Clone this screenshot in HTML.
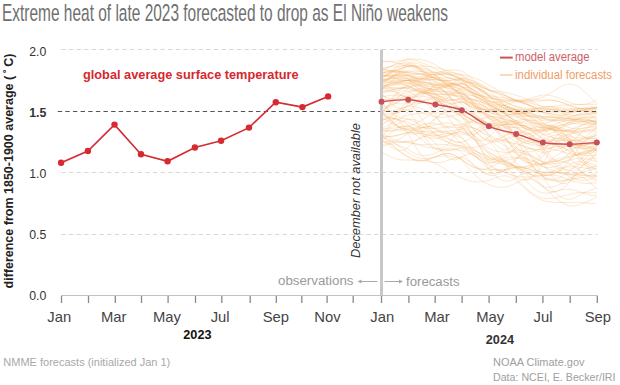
<!DOCTYPE html>
<html><head><meta charset="utf-8"><style>
html,body{margin:0;padding:0;background:#fff;width:620px;height:385px;overflow:hidden}
svg{display:block;font-family:"Liberation Sans",sans-serif}
</style></head><body>
<svg width="620" height="385" viewBox="0 0 620 385">
<line x1="61.3" y1="49.5" x2="597.6" y2="49.5" stroke="#d8d8d8" stroke-width="1" stroke-dasharray="4.4 3.23"/>
<line x1="61.3" y1="172.5" x2="597.6" y2="172.5" stroke="#d8d8d8" stroke-width="1" stroke-dasharray="4.4 3.23"/>
<line x1="61.3" y1="234.5" x2="597.6" y2="234.5" stroke="#d8d8d8" stroke-width="1" stroke-dasharray="4.4 3.23"/>
<g fill="none" stroke="#f6ac5c" stroke-opacity="0.29" stroke-width="1.0"><path d="M381.5,115.5 C382.6,115.7 385.9,116.4 388.2,116.9 C390.4,117.4 392.6,118.1 394.9,118.8 C397.1,119.4 399.3,120.2 401.5,120.8 C403.8,121.4 406.0,121.8 408.2,122.6 C410.4,123.3 412.7,124.6 415.0,125.4 C417.3,126.2 419.5,126.9 421.8,127.4 C424.1,127.8 426.3,128.2 428.6,128.3 C430.9,128.5 433.2,128.4 435.4,128.3 C437.6,128.2 439.8,128.0 442.0,127.8 C444.2,127.5 446.4,127.1 448.6,126.7 C450.8,126.3 453.0,125.8 455.2,125.4 C457.4,125.0 459.6,124.1 461.8,124.2 C464.0,124.3 466.3,125.3 468.6,126.0 C470.8,126.7 473.1,127.5 475.4,128.5 C477.6,129.4 479.9,130.6 482.1,131.9 C484.4,133.2 486.6,135.1 488.9,136.4 C491.2,137.7 493.4,138.6 495.7,139.9 C498.0,141.2 500.2,142.7 502.5,144.2 C504.8,145.7 507.0,147.3 509.3,148.9 C511.6,150.4 513.9,151.9 516.1,153.4 C518.4,154.8 520.6,156.2 522.8,157.4 C525.0,158.6 527.3,159.6 529.5,160.5 C531.7,161.4 534.0,162.0 536.2,162.6 C538.4,163.1 540.7,163.8 542.9,163.8 C545.1,163.8 547.4,163.1 549.6,162.6 C551.8,162.2 554.1,161.6 556.3,161.1 C558.5,160.5 560.8,159.9 563.0,159.3 C565.2,158.6 567.5,158.1 569.7,157.4 C571.9,156.6 574.2,155.5 576.5,154.7 C578.7,153.8 581.0,153.0 583.2,152.3 C585.5,151.6 587.8,151.0 590.0,150.5 C592.3,150.1 595.7,149.8 596.8,149.7"/>
<path d="M381.5,87.5 C382.6,87.5 385.9,87.3 388.2,87.3 C390.4,87.3 392.6,87.5 394.9,87.6 C397.1,87.8 399.3,88.1 401.5,88.3 C403.8,88.5 406.0,88.5 408.2,88.9 C410.4,89.4 412.7,90.4 415.0,91.0 C417.3,91.6 419.5,92.1 421.8,92.5 C424.1,92.8 426.3,93.1 428.6,93.3 C430.9,93.5 433.2,93.6 435.4,93.7 C437.6,93.9 439.8,94.0 442.0,94.2 C444.2,94.4 446.4,94.6 448.6,94.9 C450.8,95.2 453.0,95.6 455.2,96.1 C457.4,96.6 459.6,96.7 461.8,97.8 C464.0,98.9 466.3,100.9 468.6,102.6 C470.8,104.2 473.1,106.0 475.4,107.7 C477.6,109.4 479.9,111.2 482.1,112.9 C484.4,114.7 486.6,116.8 488.9,118.1 C491.2,119.3 493.4,119.9 495.7,120.7 C498.0,121.5 500.2,122.2 502.5,122.8 C504.8,123.4 507.0,123.8 509.3,124.2 C511.6,124.5 513.9,124.7 516.1,124.9 C518.4,125.1 520.6,125.2 522.8,125.4 C525.0,125.5 527.3,125.6 529.5,125.8 C531.7,125.9 534.0,126.1 536.2,126.5 C538.4,126.9 540.7,127.7 542.9,128.1 C545.1,128.5 547.4,128.5 549.6,129.0 C551.8,129.5 554.1,130.2 556.3,131.0 C558.5,131.8 560.8,132.7 563.0,133.6 C565.2,134.5 567.5,135.7 569.7,136.3 C571.9,137.0 574.2,137.4 576.5,137.6 C578.7,137.9 581.0,138.0 583.2,137.9 C585.5,137.7 587.8,137.4 590.0,137.0 C592.3,136.6 595.7,135.6 596.8,135.3"/>
<path d="M381.5,93.5 C382.6,93.1 385.9,92.1 388.2,91.4 C390.4,90.8 392.6,90.1 394.9,89.5 C397.1,88.9 399.3,88.4 401.5,88.1 C403.8,87.7 406.0,87.1 408.2,87.2 C410.4,87.3 412.7,88.0 415.0,88.5 C417.3,88.9 419.5,89.4 421.8,89.8 C424.1,90.2 426.3,90.6 428.6,90.8 C430.9,91.1 433.2,91.2 435.4,91.3 C437.6,91.4 439.8,91.5 442.0,91.5 C444.2,91.4 446.4,91.3 448.6,91.2 C450.8,91.1 453.0,91.0 455.2,90.9 C457.4,90.8 459.6,90.3 461.8,90.8 C464.0,91.2 466.3,92.6 468.6,93.6 C470.8,94.6 473.1,95.7 475.4,96.8 C477.6,98.0 479.9,99.2 482.1,100.4 C484.4,101.6 486.6,103.3 488.9,104.2 C491.2,105.2 493.4,105.5 495.7,106.1 C498.0,106.7 500.2,107.3 502.5,107.8 C504.8,108.3 507.0,108.9 509.3,109.3 C511.6,109.8 513.9,110.2 516.1,110.7 C518.4,111.1 520.6,111.6 522.8,112.0 C525.0,112.5 527.3,112.9 529.5,113.4 C531.7,113.9 534.0,114.4 536.2,114.9 C538.4,115.5 540.7,116.4 542.9,116.8 C545.1,117.2 547.4,117.1 549.6,117.3 C551.8,117.5 554.1,117.7 556.3,117.9 C558.5,118.1 560.8,118.2 563.0,118.3 C565.2,118.4 567.5,118.6 569.7,118.4 C571.9,118.2 574.2,117.6 576.5,117.2 C578.7,116.7 581.0,116.2 583.2,115.7 C585.5,115.2 587.8,114.6 590.0,114.2 C592.3,113.7 595.7,113.1 596.8,112.9"/>
<path d="M381.5,135.7 C382.6,136.4 385.9,139.3 388.2,140.1 C390.4,140.9 392.6,141.0 394.9,140.6 C397.1,140.3 399.3,139.2 401.5,137.9 C403.8,136.6 406.0,134.3 408.2,132.7 C410.4,131.2 412.7,129.7 415.0,128.4 C417.3,127.0 419.5,125.7 421.8,124.8 C424.1,124.0 426.3,123.4 428.6,123.2 C430.9,123.0 433.2,123.3 435.4,123.7 C437.6,124.0 439.8,124.9 442.0,125.5 C444.2,126.1 446.4,126.8 448.6,127.2 C450.8,127.5 453.0,127.8 455.2,127.7 C457.4,127.6 459.6,126.7 461.8,126.7 C464.0,126.6 466.3,127.1 468.6,127.4 C470.8,127.8 473.1,127.9 475.4,128.8 C477.6,129.6 479.9,130.7 482.1,132.6 C484.4,134.4 486.6,137.3 488.9,140.0 C491.2,142.8 493.4,145.7 495.7,149.0 C498.0,152.2 500.2,156.3 502.5,159.7 C504.8,163.2 507.0,166.8 509.3,169.6 C511.6,172.5 513.9,175.1 516.1,176.8 C518.4,178.5 520.6,179.6 522.8,180.0 C525.0,180.4 527.3,180.1 529.5,179.0 C531.7,177.9 534.0,176.0 536.2,173.5 C538.4,170.9 540.7,167.6 542.9,163.9 C545.1,160.2 547.4,155.0 549.6,151.2 C551.8,147.5 554.1,143.8 556.3,141.5 C558.5,139.3 560.8,138.0 563.0,137.9 C565.2,137.8 567.5,139.1 569.7,141.0 C571.9,142.8 574.2,145.8 576.5,149.0 C578.7,152.1 581.0,156.4 583.2,159.9 C585.5,163.5 587.8,167.3 590.0,170.2 C592.3,173.0 595.7,175.9 596.8,177.1"/>
<path d="M381.5,81.6 C382.6,81.6 385.9,81.6 388.2,81.7 C390.4,81.7 392.6,81.8 394.9,81.9 C397.1,82.0 399.3,82.2 401.5,82.3 C403.8,82.5 406.0,82.4 408.2,82.8 C410.4,83.3 412.7,84.3 415.0,85.0 C417.3,85.6 419.5,86.3 421.8,86.9 C424.1,87.5 426.3,88.0 428.6,88.5 C430.9,89.0 433.2,89.4 435.4,89.8 C437.6,90.2 439.8,90.6 442.0,91.0 C444.2,91.4 446.4,91.7 448.6,92.0 C450.8,92.3 453.0,92.6 455.2,92.9 C457.4,93.2 459.6,93.0 461.8,93.8 C464.0,94.5 466.3,96.1 468.6,97.3 C470.8,98.5 473.1,99.7 475.4,101.0 C477.6,102.3 479.9,103.7 482.1,105.1 C484.4,106.6 486.6,108.5 488.9,109.8 C491.2,111.0 493.4,111.7 495.7,112.8 C498.0,113.9 500.2,115.0 502.5,116.2 C504.8,117.3 507.0,118.6 509.3,119.7 C511.6,120.8 513.9,121.9 516.1,122.9 C518.4,123.9 520.6,124.9 522.8,125.7 C525.0,126.5 527.3,127.2 529.5,127.8 C531.7,128.5 534.0,128.9 536.2,129.4 C538.4,129.9 540.7,130.5 542.9,130.7 C545.1,130.8 547.4,130.4 549.6,130.3 C551.8,130.2 554.1,130.2 556.3,130.2 C558.5,130.3 560.8,130.4 563.0,130.6 C565.2,130.8 567.5,131.2 569.7,131.3 C571.9,131.4 574.2,131.2 576.5,131.2 C578.7,131.2 581.0,131.2 583.2,131.2 C585.5,131.2 587.8,131.2 590.0,131.2 C592.3,131.2 595.7,131.2 596.8,131.3"/>
<path d="M381.5,89.9 C382.6,88.9 385.9,85.8 388.2,83.9 C390.4,82.0 392.6,79.8 394.9,78.6 C397.1,77.5 399.3,76.8 401.5,76.9 C403.8,77.1 406.0,77.9 408.2,79.4 C410.4,80.8 412.7,83.8 415.0,85.7 C417.3,87.7 419.5,89.9 421.8,91.0 C424.1,92.1 426.3,92.5 428.6,92.3 C430.9,92.2 433.2,90.8 435.4,89.9 C437.6,89.0 439.8,87.5 442.0,86.8 C444.2,86.2 446.4,85.7 448.6,86.1 C450.8,86.5 453.0,87.7 455.2,89.3 C457.4,90.9 459.6,93.0 461.8,95.6 C464.0,98.2 466.3,102.3 468.6,104.9 C470.8,107.4 473.1,109.6 475.4,110.9 C477.6,112.2 479.9,112.4 482.1,112.5 C484.4,112.6 486.6,112.0 488.9,111.6 C491.2,111.1 493.4,109.7 495.7,109.7 C498.0,109.6 500.2,110.2 502.5,111.5 C504.8,112.9 507.0,115.2 509.3,117.6 C511.6,119.9 513.9,123.1 516.1,125.5 C518.4,127.9 520.6,130.6 522.8,131.9 C525.0,133.3 527.3,133.8 529.5,133.6 C531.7,133.5 534.0,132.1 536.2,131.0 C538.4,130.0 540.7,128.5 542.9,127.5 C545.1,126.5 547.4,125.1 549.6,125.0 C551.8,124.9 554.1,125.7 556.3,127.0 C558.5,128.3 560.8,130.7 563.0,132.7 C565.2,134.7 567.5,137.5 569.7,138.9 C571.9,140.3 574.2,141.1 576.5,141.1 C578.7,141.0 581.0,139.9 583.2,138.5 C585.5,137.2 587.8,134.7 590.0,133.0 C592.3,131.3 595.7,129.1 596.8,128.3"/>
<path d="M381.5,79.9 C382.6,79.7 385.9,79.1 388.2,78.9 C390.4,78.7 392.6,78.7 394.9,78.8 C397.1,78.9 399.3,79.3 401.5,79.6 C403.8,79.9 406.0,80.1 408.2,80.8 C410.4,81.4 412.7,82.7 415.0,83.4 C417.3,84.2 419.5,84.9 421.8,85.4 C424.1,85.9 426.3,86.3 428.6,86.5 C430.9,86.8 433.2,86.8 435.4,86.9 C437.6,87.0 439.8,87.1 442.0,87.3 C444.2,87.5 446.4,87.7 448.6,88.0 C450.8,88.4 453.0,88.8 455.2,89.4 C457.4,90.0 459.6,90.4 461.8,91.6 C464.0,92.9 466.3,95.2 468.6,97.0 C470.8,98.8 473.1,100.8 475.4,102.6 C477.6,104.4 479.9,106.2 482.1,107.9 C484.4,109.5 486.6,111.5 488.9,112.5 C491.2,113.6 493.4,113.8 495.7,114.3 C498.0,114.8 500.2,115.1 502.5,115.4 C504.8,115.7 507.0,115.9 509.3,116.2 C511.6,116.5 513.9,116.7 516.1,117.1 C518.4,117.5 520.6,118.0 522.8,118.6 C525.0,119.2 527.3,119.9 529.5,120.7 C531.7,121.5 534.0,122.4 536.2,123.4 C538.4,124.4 540.7,125.8 542.9,126.7 C545.1,127.5 547.4,127.8 549.6,128.4 C551.8,128.9 554.1,129.5 556.3,129.9 C558.5,130.3 560.8,130.6 563.0,130.8 C565.2,131.0 567.5,131.2 569.7,131.0 C571.9,130.9 574.2,130.2 576.5,129.8 C578.7,129.4 581.0,128.8 583.2,128.4 C585.5,128.0 587.8,127.6 590.0,127.3 C592.3,127.1 595.7,127.1 596.8,127.1"/>
<path d="M381.5,69.5 C382.6,69.2 385.9,68.2 388.2,67.3 C390.4,66.4 392.6,65.2 394.9,64.2 C397.1,63.2 399.3,62.1 401.5,61.3 C403.8,60.5 406.0,59.6 408.2,59.4 C410.4,59.3 412.7,59.8 415.0,60.4 C417.3,60.9 419.5,61.7 421.8,62.6 C424.1,63.4 426.3,64.6 428.6,65.7 C430.9,66.8 433.2,68.0 435.4,69.1 C437.6,70.2 439.8,71.4 442.0,72.3 C444.2,73.1 446.4,73.8 448.6,74.3 C450.8,74.7 453.0,74.9 455.2,75.0 C457.4,75.0 459.6,74.4 461.8,74.6 C464.0,74.8 466.3,75.6 468.6,76.2 C470.8,76.8 473.1,77.4 475.4,78.2 C477.6,79.0 479.9,79.9 482.1,81.1 C484.4,82.2 486.6,83.8 488.9,85.1 C491.2,86.4 493.4,87.5 495.7,88.8 C498.0,90.2 500.2,91.7 502.5,93.1 C504.8,94.5 507.0,96.1 509.3,97.2 C511.6,98.4 513.9,99.6 516.1,100.3 C518.4,101.0 520.6,101.4 522.8,101.7 C525.0,101.9 527.3,101.8 529.5,101.7 C531.7,101.6 534.0,101.3 536.2,101.1 C538.4,101.0 540.7,101.1 542.9,100.9 C545.1,100.8 547.4,100.3 549.6,100.3 C551.8,100.4 554.1,100.6 556.3,101.0 C558.5,101.3 560.8,102.0 563.0,102.7 C565.2,103.4 567.5,104.5 569.7,105.2 C571.9,106.0 574.2,106.7 576.5,107.3 C578.7,107.9 581.0,108.5 583.2,108.7 C585.5,109.0 587.8,109.0 590.0,108.9 C592.3,108.7 595.7,107.9 596.8,107.7"/>
<path d="M381.5,129.6 C382.6,129.9 385.9,130.9 388.2,131.1 C390.4,131.3 392.6,131.0 394.9,130.9 C397.1,130.7 399.3,130.1 401.5,130.0 C403.8,130.0 406.0,129.6 408.2,130.3 C410.4,131.0 412.7,132.6 415.0,134.2 C417.3,135.7 419.5,137.8 421.8,139.6 C424.1,141.4 426.3,143.4 428.6,145.0 C430.9,146.5 433.2,147.9 435.4,148.9 C437.6,149.8 439.8,150.5 442.0,150.8 C444.2,151.0 446.4,150.8 448.6,150.6 C450.8,150.3 453.0,149.6 455.2,149.2 C457.4,148.7 459.6,147.7 461.8,147.9 C464.0,148.0 466.3,149.2 468.6,150.1 C470.8,151.1 473.1,152.4 475.4,153.5 C477.6,154.7 479.9,156.1 482.1,157.1 C484.4,158.0 486.6,159.3 488.9,159.5 C491.2,159.6 493.4,158.9 495.7,158.2 C498.0,157.4 500.2,156.2 502.5,155.2 C504.8,154.1 507.0,152.7 509.3,151.8 C511.6,151.0 513.9,150.1 516.1,150.0 C518.4,149.8 520.6,150.3 522.8,151.0 C525.0,151.7 527.3,153.1 529.5,154.3 C531.7,155.5 534.0,157.1 536.2,158.4 C538.4,159.6 540.7,161.1 542.9,161.7 C545.1,162.3 547.4,162.0 549.6,161.9 C551.8,161.9 554.1,161.4 556.3,161.4 C558.5,161.3 560.8,161.1 563.0,161.5 C565.2,161.9 567.5,162.8 569.7,163.9 C571.9,165.0 574.2,166.4 576.5,167.9 C578.7,169.5 581.0,171.6 583.2,173.3 C585.5,175.0 587.8,176.8 590.0,178.0 C592.3,179.2 595.7,180.2 596.8,180.7"/>
<path d="M381.5,132.0 C382.6,131.8 385.9,131.3 388.2,131.0 C390.4,130.6 392.6,130.2 394.9,129.9 C397.1,129.5 399.3,129.2 401.5,128.9 C403.8,128.6 406.0,128.1 408.2,128.2 C410.4,128.3 412.7,129.0 415.0,129.5 C417.3,130.0 419.5,130.6 421.8,131.1 C424.1,131.7 426.3,132.3 428.6,133.0 C430.9,133.6 433.2,134.2 435.4,134.9 C437.6,135.6 439.8,136.4 442.0,137.1 C444.2,137.9 446.4,138.6 448.6,139.3 C450.8,140.0 453.0,140.7 455.2,141.3 C457.4,141.9 459.6,142.1 461.8,143.1 C464.0,144.0 466.3,145.7 468.6,147.0 C470.8,148.3 473.1,149.5 475.4,150.8 C477.6,152.0 479.9,153.2 482.1,154.4 C484.4,155.6 486.6,157.2 488.9,158.1 C491.2,159.1 493.4,159.4 495.7,160.1 C498.0,160.8 500.2,161.5 502.5,162.2 C504.8,162.9 507.0,163.7 509.3,164.3 C511.6,165.0 513.9,165.6 516.1,166.3 C518.4,166.9 520.6,167.5 522.8,168.0 C525.0,168.5 527.3,168.9 529.5,169.4 C531.7,169.8 534.0,170.2 536.2,170.6 C538.4,171.1 540.7,171.8 542.9,172.0 C545.1,172.3 547.4,172.0 549.6,172.1 C551.8,172.2 554.1,172.4 556.3,172.7 C558.5,173.0 560.8,173.3 563.0,173.7 C565.2,174.1 567.5,174.7 569.7,175.0 C571.9,175.3 574.2,175.2 576.5,175.3 C578.7,175.4 581.0,175.4 583.2,175.5 C585.5,175.5 587.8,175.5 590.0,175.4 C592.3,175.4 595.7,175.3 596.8,175.3"/>
<path d="M381.5,81.7 C382.6,81.8 385.9,82.4 388.2,82.5 C390.4,82.6 392.6,82.7 394.9,82.5 C397.1,82.4 399.3,82.1 401.5,81.7 C403.8,81.3 406.0,80.4 408.2,80.2 C410.4,80.0 412.7,80.3 415.0,80.5 C417.3,80.8 419.5,81.0 421.8,81.6 C424.1,82.1 426.3,82.8 428.6,83.6 C430.9,84.5 433.2,85.5 435.4,86.6 C437.6,87.7 439.8,89.1 442.0,90.3 C444.2,91.4 446.4,92.6 448.6,93.5 C450.8,94.4 453.0,95.2 455.2,95.6 C457.4,96.1 459.6,95.8 461.8,96.2 C464.0,96.6 466.3,97.6 468.6,98.2 C470.8,98.8 473.1,99.3 475.4,99.9 C477.6,100.6 479.9,101.3 482.1,102.3 C484.4,103.3 486.6,104.9 488.9,106.0 C491.2,107.1 493.4,107.9 495.7,109.1 C498.0,110.3 500.2,111.8 502.5,113.1 C504.8,114.5 507.0,116.0 509.3,117.3 C511.6,118.5 513.9,119.6 516.1,120.5 C518.4,121.5 520.6,122.2 522.8,122.7 C525.0,123.2 527.3,123.4 529.5,123.6 C531.7,123.9 534.0,123.9 536.2,124.1 C538.4,124.4 540.7,124.9 542.9,125.2 C545.1,125.4 547.4,125.3 549.6,125.7 C551.8,126.1 554.1,126.8 556.3,127.5 C558.5,128.2 560.8,129.2 563.0,130.1 C565.2,130.9 567.5,132.0 569.7,132.5 C571.9,133.0 574.2,133.1 576.5,133.0 C578.7,132.9 581.0,132.6 583.2,132.1 C585.5,131.6 587.8,130.7 590.0,130.0 C592.3,129.3 595.7,128.1 596.8,127.7"/>
<path d="M381.5,61.8 C382.6,61.7 385.9,61.5 388.2,61.6 C390.4,61.8 392.6,62.1 394.9,62.6 C397.1,63.0 399.3,63.7 401.5,64.3 C403.8,64.9 406.0,65.4 408.2,66.2 C410.4,67.1 412.7,68.5 415.0,69.3 C417.3,70.2 419.5,70.9 421.8,71.4 C424.1,71.9 426.3,72.2 428.6,72.3 C430.9,72.5 433.2,72.4 435.4,72.4 C437.6,72.3 439.8,72.2 442.0,72.3 C444.2,72.3 446.4,72.3 448.6,72.5 C450.8,72.6 453.0,72.9 455.2,73.3 C457.4,73.7 459.6,73.8 461.8,74.7 C464.0,75.6 466.3,77.5 468.6,78.8 C470.8,80.2 473.1,81.7 475.4,83.0 C477.6,84.3 479.9,85.6 482.1,86.8 C484.4,87.9 486.6,89.3 488.9,90.0 C491.2,90.7 493.4,90.7 495.7,91.0 C498.0,91.4 500.2,91.6 502.5,92.0 C504.8,92.4 507.0,92.8 509.3,93.4 C511.6,93.9 513.9,94.6 516.1,95.3 C518.4,95.9 520.6,96.6 522.8,97.4 C525.0,98.3 527.3,99.2 529.5,100.2 C531.7,101.3 534.0,102.4 536.2,103.6 C538.4,104.8 540.7,106.3 542.9,107.2 C545.1,108.1 547.4,108.5 549.6,109.1 C551.8,109.6 554.1,110.0 556.3,110.3 C558.5,110.6 560.8,110.7 563.0,110.7 C565.2,110.8 567.5,110.7 569.7,110.5 C571.9,110.2 574.2,109.6 576.5,109.1 C578.7,108.7 581.0,108.3 583.2,108.0 C585.5,107.6 587.8,107.4 590.0,107.2 C592.3,107.1 595.7,107.0 596.8,107.0"/>
<path d="M381.5,80.0 C382.6,80.1 385.9,80.2 388.2,80.3 C390.4,80.5 392.6,80.6 394.9,80.7 C397.1,80.8 399.3,80.9 401.5,80.9 C403.8,80.9 406.0,80.6 408.2,80.8 C410.4,80.9 412.7,81.6 415.0,81.9 C417.3,82.2 419.5,82.5 421.8,82.6 C424.1,82.8 426.3,82.9 428.6,82.9 C430.9,83.0 433.2,83.0 435.4,83.1 C437.6,83.2 439.8,83.3 442.0,83.5 C444.2,83.6 446.4,83.8 448.6,84.1 C450.8,84.4 453.0,84.7 455.2,85.1 C457.4,85.5 459.6,85.6 461.8,86.5 C464.0,87.4 466.3,89.3 468.6,90.7 C470.8,92.2 473.1,93.7 475.4,95.2 C477.6,96.7 479.9,98.3 482.1,99.9 C484.4,101.5 486.6,103.4 488.9,104.7 C491.2,106.0 493.4,106.6 495.7,107.5 C498.0,108.4 500.2,109.3 502.5,110.1 C504.8,111.0 507.0,111.8 509.3,112.4 C511.6,113.1 513.9,113.6 516.1,114.1 C518.4,114.6 520.6,115.0 522.8,115.3 C525.0,115.6 527.3,115.8 529.5,116.0 C531.7,116.1 534.0,116.2 536.2,116.4 C538.4,116.5 540.7,116.9 542.9,116.9 C545.1,116.9 547.4,116.5 549.6,116.4 C551.8,116.3 554.1,116.4 556.3,116.6 C558.5,116.7 560.8,117.1 563.0,117.4 C565.2,117.8 567.5,118.5 569.7,118.9 C571.9,119.3 574.2,119.5 576.5,119.8 C578.7,120.0 581.0,120.4 583.2,120.6 C585.5,120.9 587.8,121.1 590.0,121.3 C592.3,121.4 595.7,121.6 596.8,121.6"/>
<path d="M381.5,72.8 C382.6,72.7 385.9,72.5 388.2,72.3 C390.4,72.1 392.6,71.9 394.9,71.7 C397.1,71.5 399.3,71.3 401.5,71.2 C403.8,71.0 406.0,70.6 408.2,70.8 C410.4,71.0 412.7,71.8 415.0,72.4 C417.3,73.0 419.5,73.6 421.8,74.2 C424.1,74.9 426.3,75.6 428.6,76.3 C430.9,77.0 433.2,77.7 435.4,78.5 C437.6,79.3 439.8,80.1 442.0,80.9 C444.2,81.7 446.4,82.5 448.6,83.2 C450.8,83.9 453.0,84.6 455.2,85.2 C457.4,85.8 459.6,85.9 461.8,86.8 C464.0,87.6 466.3,89.3 468.6,90.5 C470.8,91.7 473.1,92.8 475.4,94.0 C477.6,95.1 479.9,96.2 482.1,97.4 C484.4,98.6 486.6,100.1 488.9,101.1 C491.2,102.0 493.4,102.4 495.7,103.1 C498.0,103.9 500.2,104.8 502.5,105.6 C504.8,106.5 507.0,107.4 509.3,108.3 C511.6,109.2 513.9,110.1 516.1,111.0 C518.4,111.8 520.6,112.7 522.8,113.4 C525.0,114.2 527.3,114.8 529.5,115.5 C531.7,116.1 534.0,116.6 536.2,117.2 C538.4,117.8 540.7,118.5 542.9,118.9 C545.1,119.2 547.4,119.0 549.6,119.2 C551.8,119.3 554.1,119.6 556.3,119.9 C558.5,120.2 560.8,120.7 563.0,121.2 C565.2,121.6 567.5,122.4 569.7,122.8 C571.9,123.2 574.2,123.4 576.5,123.7 C578.7,123.9 581.0,124.2 583.2,124.4 C585.5,124.6 587.8,124.7 590.0,124.8 C592.3,124.9 595.7,124.8 596.8,124.8"/>
<path d="M381.5,61.0 C382.6,61.0 385.9,61.3 388.2,61.3 C390.4,61.4 392.6,61.4 394.9,61.3 C397.1,61.1 399.3,60.8 401.5,60.5 C403.8,60.1 406.0,59.2 408.2,59.0 C410.4,58.8 412.7,58.9 415.0,59.1 C417.3,59.2 419.5,59.4 421.8,59.8 C424.1,60.3 426.3,60.9 428.6,61.7 C430.9,62.5 433.2,63.6 435.4,64.8 C437.6,66.0 439.8,67.5 442.0,69.0 C444.2,70.4 446.4,72.0 448.6,73.4 C450.8,74.7 453.0,76.1 455.2,77.1 C457.4,78.1 459.6,78.5 461.8,79.5 C464.0,80.5 466.3,82.0 468.6,83.1 C470.8,84.3 473.1,85.2 475.4,86.4 C477.6,87.5 479.9,88.7 482.1,90.1 C484.4,91.6 486.6,93.6 488.9,95.1 C491.2,96.7 493.4,98.0 495.7,99.5 C498.0,101.0 500.2,102.8 502.5,104.2 C504.8,105.7 507.0,107.1 509.3,108.1 C511.6,109.2 513.9,109.9 516.1,110.3 C518.4,110.7 520.6,110.7 522.8,110.6 C525.0,110.5 527.3,110.0 529.5,109.7 C531.7,109.4 534.0,109.0 536.2,108.9 C538.4,108.8 540.7,109.1 542.9,109.2 C545.1,109.2 547.4,109.1 549.6,109.3 C551.8,109.5 554.1,109.9 556.3,110.4 C558.5,110.8 560.8,111.4 563.0,111.8 C565.2,112.1 567.5,112.6 569.7,112.6 C571.9,112.5 574.2,112.0 576.5,111.6 C578.7,111.1 581.0,110.4 583.2,109.9 C585.5,109.3 587.8,108.7 590.0,108.3 C592.3,107.9 595.7,107.6 596.8,107.4"/>
<path d="M381.5,98.8 C382.6,99.1 385.9,100.1 388.2,100.7 C390.4,101.4 392.6,102.4 394.9,102.9 C397.1,103.5 399.3,104.0 401.5,104.0 C403.8,104.1 406.0,103.6 408.2,103.3 C410.4,103.0 412.7,102.9 415.0,102.5 C417.3,102.1 419.5,101.3 421.8,100.8 C424.1,100.4 426.3,99.8 428.6,99.7 C430.9,99.6 433.2,99.7 435.4,100.3 C437.6,100.8 439.8,102.0 442.0,103.3 C444.2,104.5 446.4,106.3 448.6,108.0 C450.8,109.6 453.0,111.6 455.2,113.1 C457.4,114.5 459.6,115.6 461.8,117.0 C464.0,118.3 466.3,120.2 468.6,121.2 C470.8,122.2 473.1,122.6 475.4,123.0 C477.6,123.4 479.9,123.2 482.1,123.3 C484.4,123.5 486.6,123.7 488.9,123.8 C491.2,123.8 493.4,123.3 495.7,123.6 C498.0,124.0 500.2,124.8 502.5,125.9 C504.8,127.0 507.0,128.7 509.3,130.3 C511.6,131.8 513.9,133.8 516.1,135.4 C518.4,136.9 520.6,138.7 522.8,139.8 C525.0,140.9 527.3,141.8 529.5,142.1 C531.7,142.5 534.0,142.3 536.2,142.0 C538.4,141.7 540.7,141.1 542.9,140.3 C545.1,139.4 547.4,137.7 549.6,136.8 C551.8,136.0 554.1,135.2 556.3,135.0 C558.5,134.8 560.8,135.1 563.0,135.7 C565.2,136.4 567.5,137.7 569.7,138.8 C571.9,139.9 574.2,141.2 576.5,142.3 C578.7,143.5 581.0,144.8 583.2,145.5 C585.5,146.3 587.8,146.9 590.0,146.9 C592.3,147.0 595.7,146.2 596.8,146.0"/>
<path d="M381.5,75.2 C382.6,75.2 385.9,75.3 388.2,75.4 C390.4,75.4 392.6,75.5 394.9,75.6 C397.1,75.6 399.3,75.7 401.5,75.7 C403.8,75.7 406.0,75.4 408.2,75.7 C410.4,76.0 412.7,76.8 415.0,77.2 C417.3,77.7 419.5,78.1 421.8,78.4 C424.1,78.8 426.3,79.1 428.6,79.3 C430.9,79.5 433.2,79.7 435.4,79.8 C437.6,79.9 439.8,80.1 442.0,80.2 C444.2,80.3 446.4,80.3 448.6,80.3 C450.8,80.3 453.0,80.3 455.2,80.2 C457.4,80.2 459.6,79.7 461.8,80.1 C464.0,80.4 466.3,81.6 468.6,82.3 C470.8,83.1 473.1,83.9 475.4,84.7 C477.6,85.5 479.9,86.4 482.1,87.3 C484.4,88.3 486.6,89.5 488.9,90.4 C491.2,91.2 493.4,91.6 495.7,92.3 C498.0,93.0 500.2,93.9 502.5,94.8 C504.8,95.6 507.0,96.6 509.3,97.6 C511.6,98.5 513.9,99.6 516.1,100.5 C518.4,101.5 520.6,102.4 522.8,103.3 C525.0,104.2 527.3,105.0 529.5,105.8 C531.7,106.6 534.0,107.4 536.2,108.1 C538.4,108.9 540.7,109.8 542.9,110.3 C545.1,110.7 547.4,110.6 549.6,110.8 C551.8,111.0 554.1,111.2 556.3,111.3 C558.5,111.5 560.8,111.7 563.0,111.8 C565.2,111.9 567.5,112.2 569.7,112.1 C571.9,112.0 574.2,111.6 576.5,111.3 C578.7,111.0 581.0,110.6 583.2,110.2 C585.5,109.8 587.8,109.3 590.0,108.8 C592.3,108.4 595.7,107.7 596.8,107.5"/>
<path d="M381.5,111.5 C382.6,112.5 385.9,115.0 388.2,117.0 C390.4,119.1 392.6,121.7 394.9,123.8 C397.1,125.9 399.3,128.1 401.5,129.6 C403.8,131.1 406.0,132.0 408.2,132.8 C410.4,133.6 412.7,134.4 415.0,134.2 C417.3,134.1 419.5,133.3 421.8,132.0 C424.1,130.7 426.3,128.7 428.6,126.6 C430.9,124.5 433.2,121.8 435.4,119.5 C437.6,117.3 439.8,114.9 442.0,113.4 C444.2,111.8 446.4,110.6 448.6,110.2 C450.8,109.9 453.0,110.3 455.2,111.5 C457.4,112.6 459.6,114.2 461.8,117.0 C464.0,119.8 466.3,124.4 468.6,128.2 C470.8,132.1 473.1,136.4 475.4,140.1 C477.6,143.8 479.9,147.5 482.1,150.4 C484.4,153.3 486.6,156.1 488.9,157.6 C491.2,159.1 493.4,159.4 495.7,159.5 C498.0,159.5 500.2,158.9 502.5,158.0 C504.8,157.0 507.0,155.3 509.3,153.5 C511.6,151.8 513.9,149.5 516.1,147.6 C518.4,145.8 520.6,143.8 522.8,142.6 C525.0,141.4 527.3,140.5 529.5,140.4 C531.7,140.2 534.0,140.8 536.2,142.0 C538.4,143.2 540.7,145.6 542.9,147.7 C545.1,149.7 547.4,152.0 549.6,154.4 C551.8,156.8 554.1,159.6 556.3,161.9 C558.5,164.1 560.8,166.4 563.0,168.0 C565.2,169.5 567.5,170.8 569.7,171.1 C571.9,171.5 574.2,170.9 576.5,169.9 C578.7,169.0 581.0,167.3 583.2,165.4 C585.5,163.5 587.8,161.0 590.0,158.7 C592.3,156.4 595.7,152.8 596.8,151.7"/>
<path d="M381.5,73.8 C382.6,73.3 385.9,71.4 388.2,70.8 C390.4,70.3 392.6,70.2 394.9,70.4 C397.1,70.6 399.3,71.3 401.5,72.1 C403.8,72.8 406.0,73.7 408.2,74.7 C410.4,75.8 412.7,77.5 415.0,78.3 C417.3,79.2 419.5,79.7 421.8,79.7 C424.1,79.8 426.3,79.2 428.6,78.6 C430.9,77.9 433.2,76.7 435.4,75.9 C437.6,75.1 439.8,74.2 442.0,73.8 C444.2,73.4 446.4,73.1 448.6,73.4 C450.8,73.6 453.0,74.3 455.2,75.3 C457.4,76.4 459.6,77.6 461.8,79.8 C464.0,82.0 466.3,85.5 468.6,88.6 C470.8,91.6 473.1,95.1 475.4,98.0 C477.6,100.9 479.9,103.8 482.1,106.0 C484.4,108.2 486.6,110.3 488.9,111.2 C491.2,112.2 493.4,111.8 495.7,111.8 C498.0,111.8 500.2,111.3 502.5,111.2 C504.8,111.0 507.0,110.8 509.3,111.1 C511.6,111.4 513.9,112.0 516.1,113.0 C518.4,114.0 520.6,115.5 522.8,117.2 C525.0,118.9 527.3,121.1 529.5,123.2 C531.7,125.2 534.0,127.6 536.2,129.4 C538.4,131.2 540.7,133.2 542.9,134.0 C545.1,134.7 547.4,134.4 549.6,133.9 C551.8,133.3 554.1,132.1 556.3,130.8 C558.5,129.5 560.8,127.5 563.0,126.0 C565.2,124.5 567.5,122.9 569.7,121.7 C571.9,120.4 574.2,119.1 576.5,118.5 C578.7,117.8 581.0,117.7 583.2,117.9 C585.5,118.2 587.8,119.0 590.0,120.0 C592.3,120.9 595.7,123.1 596.8,123.7"/>
<path d="M381.5,100.9 C382.6,102.3 385.9,106.8 388.2,109.3 C390.4,111.7 392.6,114.6 394.9,115.8 C397.1,117.1 399.3,117.5 401.5,116.8 C403.8,116.1 406.0,113.7 408.2,111.9 C410.4,110.0 412.7,107.5 415.0,105.9 C417.3,104.3 419.5,102.5 421.8,102.4 C424.1,102.3 426.3,103.3 428.6,105.3 C430.9,107.3 433.2,110.9 435.4,114.2 C437.6,117.5 439.8,122.1 442.0,125.1 C444.2,128.1 446.4,131.0 448.6,132.4 C450.8,133.7 453.0,133.9 455.2,133.2 C457.4,132.5 459.6,129.7 461.8,128.1 C464.0,126.4 466.3,124.3 468.6,123.2 C470.8,122.0 473.1,120.9 475.4,121.3 C477.6,121.8 479.9,123.4 482.1,125.9 C484.4,128.3 486.6,132.8 488.9,135.9 C491.2,139.0 493.4,142.4 495.7,144.7 C498.0,147.0 500.2,149.0 502.5,149.6 C504.8,150.2 507.0,149.6 509.3,148.3 C511.6,147.1 513.9,144.2 516.1,142.1 C518.4,140.0 520.6,137.1 522.8,135.7 C525.0,134.3 527.3,133.4 529.5,134.0 C531.7,134.5 534.0,136.6 536.2,139.1 C538.4,141.6 540.7,146.1 542.9,149.1 C545.1,152.1 547.4,155.3 549.6,157.2 C551.8,159.2 554.1,160.6 556.3,160.8 C558.5,161.1 560.8,160.0 563.0,158.7 C565.2,157.3 567.5,154.8 569.7,152.9 C571.9,151.0 574.2,148.3 576.5,147.4 C578.7,146.5 581.0,146.4 583.2,147.4 C585.5,148.4 587.8,151.0 590.0,153.5 C592.3,156.0 595.7,160.8 596.8,162.2"/>
<path d="M381.5,135.9 C382.6,136.0 385.9,136.6 388.2,136.7 C390.4,136.7 392.6,136.5 394.9,136.1 C397.1,135.8 399.3,135.2 401.5,134.6 C403.8,134.0 406.0,132.9 408.2,132.5 C410.4,132.0 412.7,132.1 415.0,131.9 C417.3,131.8 419.5,131.6 421.8,131.6 C424.1,131.5 426.3,131.5 428.6,131.5 C430.9,131.6 433.2,131.6 435.4,131.8 C437.6,131.9 439.8,132.2 442.0,132.5 C444.2,132.8 446.4,133.1 448.6,133.7 C450.8,134.2 453.0,134.8 455.2,135.6 C457.4,136.3 459.6,136.9 461.8,138.3 C464.0,139.8 466.3,142.3 468.6,144.3 C470.8,146.3 473.1,148.4 475.4,150.3 C477.6,152.3 479.9,154.2 482.1,155.8 C484.4,157.5 486.6,159.2 488.9,160.1 C491.2,161.0 493.4,161.1 495.7,161.2 C498.0,161.3 500.2,161.1 502.5,160.8 C504.8,160.6 507.0,160.0 509.3,159.5 C511.6,159.1 513.9,158.4 516.1,158.2 C518.4,157.9 520.6,157.7 522.8,157.9 C525.0,158.1 527.3,158.5 529.5,159.3 C531.7,160.0 534.0,161.1 536.2,162.3 C538.4,163.5 540.7,165.4 542.9,166.5 C545.1,167.7 547.4,168.5 549.6,169.4 C551.8,170.4 554.1,171.3 556.3,172.0 C558.5,172.7 560.8,173.3 563.0,173.7 C565.2,174.1 567.5,174.5 569.7,174.4 C571.9,174.4 574.2,173.9 576.5,173.4 C578.7,173.0 581.0,172.4 583.2,171.9 C585.5,171.3 587.8,170.6 590.0,170.0 C592.3,169.3 595.7,168.3 596.8,168.0"/>
<path d="M381.5,86.3 C382.6,86.1 385.9,85.2 388.2,84.9 C390.4,84.6 392.6,84.5 394.9,84.5 C397.1,84.5 399.3,84.7 401.5,84.9 C403.8,85.1 406.0,85.2 408.2,85.9 C410.4,86.6 412.7,87.9 415.0,89.0 C417.3,90.0 419.5,91.1 421.8,92.1 C424.1,93.1 426.3,94.2 428.6,95.0 C430.9,95.9 433.2,96.8 435.4,97.5 C437.6,98.2 439.8,98.9 442.0,99.3 C444.2,99.8 446.4,100.0 448.6,100.1 C450.8,100.2 453.0,100.0 455.2,99.8 C457.4,99.5 459.6,98.6 461.8,98.5 C464.0,98.4 466.3,99.0 468.6,99.3 C470.8,99.6 473.1,99.8 475.4,100.3 C477.6,100.8 479.9,101.3 482.1,102.2 C484.4,103.0 486.6,104.4 488.9,105.4 C491.2,106.4 493.4,107.0 495.7,108.1 C498.0,109.2 500.2,110.6 502.5,112.1 C504.8,113.5 507.0,115.2 509.3,116.8 C511.6,118.3 513.9,119.9 516.1,121.3 C518.4,122.8 520.6,124.2 522.8,125.3 C525.0,126.4 527.3,127.3 529.5,128.0 C531.7,128.6 534.0,129.0 536.2,129.3 C538.4,129.6 540.7,130.0 542.9,129.8 C545.1,129.6 547.4,128.7 549.6,128.1 C551.8,127.6 554.1,127.0 556.3,126.5 C558.5,126.0 560.8,125.6 563.0,125.2 C565.2,124.8 567.5,124.6 569.7,124.2 C571.9,123.8 574.2,123.1 576.5,122.7 C578.7,122.2 581.0,121.8 583.2,121.5 C585.5,121.2 587.8,120.9 590.0,120.9 C592.3,120.8 595.7,120.9 596.8,121.0"/>
<path d="M381.5,123.7 C382.6,123.2 385.9,121.5 388.2,120.8 C390.4,120.0 392.6,119.5 394.9,119.1 C397.1,118.7 399.3,118.6 401.5,118.6 C403.8,118.6 406.0,118.5 408.2,119.1 C410.4,119.7 412.7,121.1 415.0,122.2 C417.3,123.4 419.5,124.7 421.8,126.0 C424.1,127.3 426.3,128.8 428.6,130.2 C430.9,131.6 433.2,133.1 435.4,134.5 C437.6,136.0 439.8,137.6 442.0,138.9 C444.2,140.3 446.4,141.6 448.6,142.6 C450.8,143.7 453.0,144.6 455.2,145.2 C457.4,145.8 459.6,145.7 461.8,146.1 C464.0,146.5 466.3,147.4 468.6,147.6 C470.8,147.8 473.1,147.6 475.4,147.2 C477.6,146.9 479.9,146.2 482.1,145.5 C484.4,144.9 486.6,144.3 488.9,143.4 C491.2,142.6 493.4,140.9 495.7,140.2 C498.0,139.6 500.2,139.2 502.5,139.4 C504.8,139.6 507.0,140.4 509.3,141.6 C511.6,142.9 513.9,144.8 516.1,147.0 C518.4,149.2 520.6,152.0 522.8,154.8 C525.0,157.5 527.3,160.6 529.5,163.3 C531.7,166.0 534.0,168.7 536.2,171.0 C538.4,173.3 540.7,175.6 542.9,176.9 C545.1,178.3 547.4,178.7 549.6,179.0 C551.8,179.3 554.1,179.3 556.3,178.8 C558.5,178.3 560.8,177.3 563.0,176.0 C565.2,174.8 567.5,173.2 569.7,171.2 C571.9,169.2 574.2,166.4 576.5,164.1 C578.7,161.7 581.0,159.1 583.2,157.1 C585.5,155.0 587.8,153.0 590.0,151.7 C592.3,150.4 595.7,149.6 596.8,149.2"/>
<path d="M381.5,118.6 C382.6,118.9 385.9,119.5 388.2,120.6 C390.4,121.6 392.6,123.5 394.9,124.8 C397.1,126.1 399.3,127.6 401.5,128.3 C403.8,129.1 406.0,129.1 408.2,129.2 C410.4,129.4 412.7,129.3 415.0,129.0 C417.3,128.7 419.5,127.8 421.8,127.4 C424.1,127.0 426.3,126.5 428.6,126.6 C430.9,126.8 433.2,127.4 435.4,128.4 C437.6,129.5 439.8,131.4 442.0,133.1 C444.2,134.8 446.4,137.1 448.6,138.6 C450.8,140.1 453.0,141.6 455.2,142.2 C457.4,142.7 459.6,142.4 461.8,142.0 C464.0,141.5 466.3,141.0 468.6,139.7 C470.8,138.4 473.1,135.9 475.4,134.0 C477.6,132.2 479.9,129.6 482.1,128.4 C484.4,127.3 486.6,126.8 488.9,127.2 C491.2,127.5 493.4,128.4 495.7,130.6 C498.0,132.8 500.2,136.6 502.5,140.3 C504.8,143.9 507.0,148.8 509.3,152.5 C511.6,156.2 513.9,160.1 516.1,162.7 C518.4,165.3 520.6,167.2 522.8,168.1 C525.0,168.9 527.3,168.7 529.5,167.8 C531.7,167.0 534.0,164.9 536.2,162.9 C538.4,160.9 540.7,158.2 542.9,155.9 C545.1,153.5 547.4,150.4 549.6,148.7 C551.8,147.1 554.1,146.2 556.3,146.1 C558.5,146.0 560.8,147.0 563.0,148.0 C565.2,149.0 567.5,151.0 569.7,152.1 C571.9,153.2 574.2,154.3 576.5,154.7 C578.7,155.0 581.0,155.0 583.2,154.4 C585.5,153.8 587.8,152.4 590.0,151.1 C592.3,149.8 595.7,147.5 596.8,146.8"/>
<path d="M381.5,137.0 C382.6,136.9 385.9,136.8 388.2,136.6 C390.4,136.3 392.6,136.0 394.9,135.6 C397.1,135.2 399.3,134.7 401.5,134.2 C403.8,133.7 406.0,132.9 408.2,132.7 C410.4,132.4 412.7,132.7 415.0,132.9 C417.3,133.0 419.5,133.3 421.8,133.6 C424.1,134.0 426.3,134.5 428.6,135.0 C430.9,135.6 433.2,136.3 435.4,137.1 C437.6,137.9 439.8,138.9 442.0,139.8 C444.2,140.6 446.4,141.6 448.6,142.4 C450.8,143.2 453.0,144.0 455.2,144.6 C457.4,145.2 459.6,145.2 461.8,146.0 C464.0,146.7 466.3,148.1 468.6,149.0 C470.8,149.9 473.1,150.6 475.4,151.4 C477.6,152.2 479.9,152.9 482.1,153.7 C484.4,154.5 486.6,155.7 488.9,156.4 C491.2,157.2 493.4,157.4 495.7,158.1 C498.0,158.7 500.2,159.6 502.5,160.5 C504.8,161.5 507.0,162.6 509.3,163.6 C511.6,164.7 513.9,165.8 516.1,166.8 C518.4,167.7 520.6,168.7 522.8,169.5 C525.0,170.3 527.3,170.9 529.5,171.4 C531.7,171.9 534.0,172.3 536.2,172.6 C538.4,172.9 540.7,173.3 542.9,173.2 C545.1,173.2 547.4,172.6 549.6,172.4 C551.8,172.2 554.1,172.0 556.3,172.0 C558.5,172.0 560.8,172.2 563.0,172.5 C565.2,172.8 567.5,173.4 569.7,173.7 C571.9,174.0 574.2,174.2 576.5,174.4 C578.7,174.6 581.0,174.9 583.2,175.0 C585.5,175.1 587.8,175.2 590.0,175.2 C592.3,175.1 595.7,174.8 596.8,174.7"/>
<path d="M381.5,110.6 C382.6,110.6 385.9,111.0 388.2,110.9 C390.4,110.8 392.6,110.5 394.9,110.0 C397.1,109.6 399.3,108.9 401.5,108.3 C403.8,107.6 406.0,106.6 408.2,106.3 C410.4,106.1 412.7,106.4 415.0,106.8 C417.3,107.1 419.5,107.7 421.8,108.6 C424.1,109.5 426.3,110.8 428.6,112.2 C430.9,113.6 433.2,115.4 435.4,117.3 C437.6,119.1 439.8,121.4 442.0,123.3 C444.2,125.2 446.4,127.2 448.6,128.8 C450.8,130.3 453.0,131.7 455.2,132.6 C457.4,133.5 459.6,133.6 461.8,134.0 C464.0,134.4 466.3,135.1 468.6,135.1 C470.8,135.0 473.1,134.4 475.4,133.7 C477.6,132.9 479.9,131.7 482.1,130.7 C484.4,129.8 486.6,128.9 488.9,128.0 C491.2,127.0 493.4,125.5 495.7,125.1 C498.0,124.6 500.2,124.7 502.5,125.4 C504.8,126.1 507.0,127.5 509.3,129.3 C511.6,131.1 513.9,133.6 516.1,136.3 C518.4,138.9 520.6,142.2 522.8,145.2 C525.0,148.2 527.3,151.4 529.5,154.2 C531.7,156.9 534.0,159.5 536.2,161.6 C538.4,163.7 540.7,165.7 542.9,166.7 C545.1,167.7 547.4,167.6 549.6,167.6 C551.8,167.5 554.1,166.9 556.3,166.2 C558.5,165.4 560.8,164.3 563.0,163.1 C565.2,162.0 567.5,160.7 569.7,159.3 C571.9,157.9 574.2,156.1 576.5,154.8 C578.7,153.5 581.0,152.4 583.2,151.5 C585.5,150.7 587.8,150.2 590.0,150.0 C592.3,149.7 595.7,150.1 596.8,150.1"/>
<path d="M381.5,85.8 C382.6,85.6 385.9,84.9 388.2,84.4 C390.4,83.9 392.6,83.4 394.9,82.9 C397.1,82.4 399.3,81.9 401.5,81.4 C403.8,80.9 406.0,80.2 408.2,80.1 C410.4,80.0 412.7,80.5 415.0,80.7 C417.3,81.0 419.5,81.3 421.8,81.6 C424.1,82.0 426.3,82.3 428.6,82.8 C430.9,83.2 433.2,83.7 435.4,84.2 C437.6,84.8 439.8,85.5 442.0,86.2 C444.2,86.9 446.4,87.7 448.6,88.4 C450.8,89.2 453.0,90.1 455.2,90.9 C457.4,91.7 459.6,92.2 461.8,93.5 C464.0,94.8 466.3,97.0 468.6,98.7 C470.8,100.5 473.1,102.2 475.4,104.0 C477.6,105.8 479.9,107.6 482.1,109.5 C484.4,111.4 486.6,113.6 488.9,115.2 C491.2,116.9 493.4,117.8 495.7,119.2 C498.0,120.6 500.2,122.0 502.5,123.4 C504.8,124.9 507.0,126.3 509.3,127.7 C511.6,129.1 513.9,130.5 516.1,131.8 C518.4,133.1 520.6,134.4 522.8,135.6 C525.0,136.7 527.3,137.8 529.5,138.7 C531.7,139.7 534.0,140.5 536.2,141.3 C538.4,142.0 540.7,143.0 542.9,143.5 C545.1,143.9 547.4,143.7 549.6,143.9 C551.8,144.0 554.1,144.2 556.3,144.4 C558.5,144.6 560.8,144.8 563.0,145.1 C565.2,145.3 567.5,145.7 569.7,145.8 C571.9,145.8 574.2,145.6 576.5,145.5 C578.7,145.3 581.0,145.1 583.2,144.8 C585.5,144.6 587.8,144.2 590.0,143.9 C592.3,143.6 595.7,143.0 596.8,142.8"/>
<path d="M381.5,81.1 C382.6,80.8 385.9,80.4 388.2,79.3 C390.4,78.2 392.6,76.2 394.9,74.4 C397.1,72.6 399.3,70.2 401.5,68.4 C403.8,66.6 406.0,64.5 408.2,63.6 C410.4,62.7 412.7,62.7 415.0,62.9 C417.3,63.1 419.5,63.8 421.8,64.9 C424.1,66.0 426.3,67.6 428.6,69.3 C430.9,71.0 433.2,73.3 435.4,75.3 C437.6,77.3 439.8,79.6 442.0,81.3 C444.2,82.9 446.4,84.4 448.6,85.1 C450.8,85.9 453.0,85.9 455.2,85.6 C457.4,85.3 459.6,83.9 461.8,83.4 C464.0,82.9 466.3,82.7 468.6,82.6 C470.8,82.6 473.1,82.5 475.4,82.9 C477.6,83.3 479.9,84.1 482.1,85.3 C484.4,86.6 486.6,88.5 488.9,90.4 C491.2,92.2 493.4,94.0 495.7,96.2 C498.0,98.4 500.2,101.1 502.5,103.4 C504.8,105.7 507.0,108.2 509.3,109.9 C511.6,111.7 513.9,113.1 516.1,113.7 C518.4,114.4 520.6,114.3 522.8,114.0 C525.0,113.6 527.3,112.4 529.5,111.5 C531.7,110.6 534.0,109.2 536.2,108.5 C538.4,107.7 540.7,107.3 542.9,107.0 C545.1,106.6 547.4,106.1 549.6,106.4 C551.8,106.6 554.1,107.3 556.3,108.4 C558.5,109.4 560.8,111.0 563.0,112.5 C565.2,114.1 567.5,116.3 569.7,117.8 C571.9,119.2 574.2,120.6 576.5,121.2 C578.7,121.9 581.0,122.1 583.2,121.7 C585.5,121.3 587.8,120.1 590.0,118.8 C592.3,117.6 595.7,115.0 596.8,114.2"/>
<path d="M381.5,74.6 C382.6,74.5 385.9,73.8 388.2,73.8 C390.4,73.9 392.6,74.5 394.9,74.8 C397.1,75.1 399.3,75.6 401.5,75.7 C403.8,75.7 406.0,75.3 408.2,75.1 C410.4,74.9 412.7,74.7 415.0,74.5 C417.3,74.2 419.5,73.5 421.8,73.4 C424.1,73.2 426.3,73.1 428.6,73.5 C430.9,73.9 433.2,74.7 435.4,75.9 C437.6,77.1 439.8,78.9 442.0,80.7 C444.2,82.4 446.4,84.7 448.6,86.4 C450.8,88.1 453.0,89.9 455.2,91.0 C457.4,92.1 459.6,92.3 461.8,93.0 C464.0,93.7 466.3,94.5 468.6,95.1 C470.8,95.7 473.1,95.9 475.4,96.5 C477.6,97.2 479.9,98.0 482.1,99.2 C484.4,100.5 486.6,102.5 488.9,104.0 C491.2,105.6 493.4,107.0 495.7,108.4 C498.0,109.9 500.2,111.6 502.5,112.7 C504.8,113.7 507.0,114.5 509.3,114.7 C511.6,115.0 513.9,114.5 516.1,114.1 C518.4,113.6 520.6,112.6 522.8,111.9 C525.0,111.3 527.3,110.5 529.5,110.2 C531.7,109.9 534.0,109.8 536.2,110.2 C538.4,110.5 540.7,111.5 542.9,112.1 C545.1,112.7 547.4,113.2 549.6,113.7 C551.8,114.1 554.1,114.8 556.3,115.0 C558.5,115.2 560.8,115.2 563.0,115.0 C565.2,114.8 567.5,114.3 569.7,113.7 C571.9,113.2 574.2,112.1 576.5,111.6 C578.7,111.1 581.0,110.8 583.2,110.8 C585.5,110.7 587.8,111.1 590.0,111.6 C592.3,112.1 595.7,113.5 596.8,113.9"/>
<path d="M381.5,81.4 C382.6,81.0 385.9,79.6 388.2,79.0 C390.4,78.4 392.6,78.0 394.9,77.8 C397.1,77.6 399.3,77.6 401.5,77.7 C403.8,77.8 406.0,77.9 408.2,78.5 C410.4,79.1 412.7,80.5 415.0,81.3 C417.3,82.2 419.5,83.1 421.8,83.7 C424.1,84.3 426.3,84.8 428.6,85.1 C430.9,85.4 433.2,85.4 435.4,85.3 C437.6,85.3 439.8,85.1 442.0,84.8 C444.2,84.6 446.4,84.2 448.6,83.9 C450.8,83.6 453.0,83.3 455.2,83.2 C457.4,83.1 459.6,82.6 461.8,83.2 C464.0,83.8 466.3,85.4 468.6,86.8 C470.8,88.2 473.1,89.7 475.4,91.4 C477.6,93.2 479.9,95.1 482.1,97.1 C484.4,99.1 486.6,101.7 488.9,103.4 C491.2,105.2 493.4,106.5 495.7,107.8 C498.0,109.2 500.2,110.6 502.5,111.6 C504.8,112.7 507.0,113.7 509.3,114.3 C511.6,115.0 513.9,115.4 516.1,115.8 C518.4,116.1 520.6,116.3 522.8,116.4 C525.0,116.5 527.3,116.5 529.5,116.6 C531.7,116.7 534.0,116.8 536.2,117.1 C538.4,117.4 540.7,118.1 542.9,118.5 C545.1,119.0 547.4,119.1 549.6,119.6 C551.8,120.2 554.1,121.0 556.3,121.9 C558.5,122.8 560.8,123.9 563.0,124.9 C565.2,125.9 567.5,127.1 569.7,127.8 C571.9,128.4 574.2,128.7 576.5,128.8 C578.7,128.8 581.0,128.6 583.2,128.1 C585.5,127.7 587.8,126.8 590.0,125.9 C592.3,125.0 595.7,123.3 596.8,122.7"/>
<path d="M381.5,68.7 C382.6,68.9 385.9,69.4 388.2,70.0 C390.4,70.5 392.6,71.4 394.9,72.1 C397.1,72.8 399.3,73.6 401.5,74.2 C403.8,74.7 406.0,75.0 408.2,75.4 C410.4,75.8 412.7,76.6 415.0,76.8 C417.3,77.0 419.5,76.9 421.8,76.6 C424.1,76.4 426.3,75.8 428.6,75.4 C430.9,75.0 433.2,74.4 435.4,74.1 C437.6,73.8 439.8,73.6 442.0,73.7 C444.2,73.7 446.4,74.0 448.6,74.5 C450.8,75.0 453.0,75.8 455.2,76.7 C457.4,77.6 459.6,78.4 461.8,80.0 C464.0,81.7 466.3,84.3 468.6,86.5 C470.8,88.6 473.1,90.8 475.4,92.7 C477.6,94.7 479.9,96.5 482.1,98.0 C484.4,99.5 486.6,101.1 488.9,101.8 C491.2,102.5 493.4,102.1 495.7,102.1 C498.0,102.1 500.2,101.8 502.5,101.6 C504.8,101.5 507.0,101.3 509.3,101.2 C511.6,101.2 513.9,101.3 516.1,101.6 C518.4,101.8 520.6,102.2 522.8,102.8 C525.0,103.4 527.3,104.2 529.5,105.2 C531.7,106.1 534.0,107.3 536.2,108.5 C538.4,109.8 540.7,111.5 542.9,112.6 C545.1,113.8 547.4,114.5 549.6,115.3 C551.8,116.0 554.1,116.8 556.3,117.2 C558.5,117.7 560.8,118.0 563.0,118.0 C565.2,118.0 567.5,117.9 569.7,117.4 C571.9,116.9 574.2,115.8 576.5,115.0 C578.7,114.2 581.0,113.3 583.2,112.5 C585.5,111.8 587.8,111.1 590.0,110.6 C592.3,110.2 595.7,110.0 596.8,109.8"/>
<path d="M381.5,76.0 C382.6,75.9 385.9,75.7 388.2,75.6 C390.4,75.6 392.6,75.7 394.9,75.9 C397.1,76.0 399.3,76.3 401.5,76.4 C403.8,76.6 406.0,76.5 408.2,76.8 C410.4,77.1 412.7,77.9 415.0,78.3 C417.3,78.7 419.5,79.0 421.8,79.2 C424.1,79.3 426.3,79.4 428.6,79.5 C430.9,79.5 433.2,79.5 435.4,79.7 C437.6,79.9 439.8,80.1 442.0,80.5 C444.2,80.9 446.4,81.4 448.6,82.0 C450.8,82.6 453.0,83.4 455.2,84.2 C457.4,85.0 459.6,85.5 461.8,86.8 C464.0,88.0 466.3,90.2 468.6,91.8 C470.8,93.5 473.1,95.0 475.4,96.4 C477.6,97.8 479.9,99.1 482.1,100.3 C484.4,101.4 486.6,102.7 488.9,103.4 C491.2,104.1 493.4,104.0 495.7,104.3 C498.0,104.6 500.2,105.0 502.5,105.4 C504.8,105.9 507.0,106.4 509.3,107.1 C511.6,107.8 513.9,108.6 516.1,109.5 C518.4,110.3 520.6,111.4 522.8,112.4 C525.0,113.4 527.3,114.5 529.5,115.5 C531.7,116.4 534.0,117.4 536.2,118.3 C538.4,119.2 540.7,120.3 542.9,120.7 C545.1,121.1 547.4,120.8 549.6,120.8 C551.8,120.8 554.1,120.6 556.3,120.5 C558.5,120.4 560.8,120.2 563.0,120.2 C565.2,120.1 567.5,120.1 569.7,120.1 C571.9,120.0 574.2,119.7 576.5,119.6 C578.7,119.5 581.0,119.6 583.2,119.7 C585.5,119.8 587.8,120.1 590.0,120.3 C592.3,120.5 595.7,120.9 596.8,121.1"/>
<path d="M381.5,136.3 C382.6,137.1 385.9,139.4 388.2,141.3 C390.4,143.2 392.6,145.6 394.9,147.6 C397.1,149.6 399.3,151.6 401.5,153.1 C403.8,154.7 406.0,155.7 408.2,156.8 C410.4,157.9 412.7,159.0 415.0,159.6 C417.3,160.2 419.5,160.3 421.8,160.2 C424.1,160.1 426.3,159.6 428.6,159.0 C430.9,158.4 433.2,157.3 435.4,156.5 C437.6,155.8 439.8,154.8 442.0,154.3 C444.2,153.8 446.4,153.3 448.6,153.5 C450.8,153.7 453.0,154.4 455.2,155.5 C457.4,156.6 459.6,158.1 461.8,160.2 C464.0,162.3 466.3,165.6 468.6,168.2 C470.8,170.7 473.1,173.3 475.4,175.4 C477.6,177.6 479.9,179.4 482.1,181.0 C484.4,182.5 486.6,183.8 488.9,184.7 C491.2,185.7 493.4,186.4 495.7,186.8 C498.0,187.3 500.2,187.5 502.5,187.3 C504.8,187.2 507.0,186.7 509.3,186.0 C511.6,185.3 513.9,184.1 516.1,183.1 C518.4,182.1 520.6,180.6 522.8,179.9 C525.0,179.2 527.3,178.5 529.5,178.7 C531.7,178.9 534.0,179.7 536.2,181.0 C538.4,182.4 540.7,184.7 542.9,186.6 C545.1,188.6 547.4,190.7 549.6,192.6 C551.8,194.6 554.1,196.8 556.3,198.5 C558.5,200.2 560.8,201.8 563.0,203.0 C565.2,204.3 567.5,205.5 569.7,205.9 C571.9,206.3 574.2,205.8 576.5,205.4 C578.7,205.0 581.0,204.3 583.2,203.4 C585.5,202.6 587.8,201.5 590.0,200.4 C592.3,199.3 595.7,197.4 596.8,196.8"/>
<path d="M381.5,137.9 C382.6,136.3 385.9,132.0 388.2,128.6 C390.4,125.3 392.6,120.8 394.9,117.7 C397.1,114.7 399.3,111.6 401.5,110.4 C403.8,109.3 406.0,109.0 408.2,110.6 C410.4,112.1 412.7,116.1 415.0,119.7 C417.3,123.3 419.5,128.3 421.8,132.0 C424.1,135.8 426.3,139.8 428.6,142.5 C430.9,145.1 433.2,147.0 435.4,148.0 C437.6,148.9 439.8,149.0 442.0,148.2 C444.2,147.4 446.4,145.5 448.6,143.4 C450.8,141.2 453.0,137.9 455.2,135.5 C457.4,133.1 459.6,129.7 461.8,128.8 C464.0,127.9 466.3,128.6 468.6,130.3 C470.8,131.9 473.1,135.1 475.4,138.6 C477.6,142.1 479.9,147.0 482.1,151.1 C484.4,155.2 486.6,160.0 488.9,163.0 C491.2,166.1 493.4,168.1 495.7,169.5 C498.0,170.8 500.2,171.4 502.5,171.1 C504.8,170.8 507.0,169.5 509.3,167.6 C511.6,165.8 513.9,162.6 516.1,160.0 C518.4,157.3 520.6,153.9 522.8,152.0 C525.0,150.1 527.3,148.5 529.5,148.5 C531.7,148.6 534.0,150.1 536.2,152.5 C538.4,154.8 540.7,159.2 542.9,162.6 C545.1,166.0 547.4,169.9 549.6,172.9 C551.8,176.0 554.1,178.9 556.3,180.7 C558.5,182.5 560.8,183.5 563.0,183.6 C565.2,183.8 567.5,183.1 569.7,181.4 C571.9,179.8 574.2,176.5 576.5,173.7 C578.7,170.9 581.0,167.1 583.2,164.5 C585.5,161.9 587.8,159.3 590.0,158.3 C592.3,157.4 595.7,158.7 596.8,158.8"/>
<path d="M381.5,75.1 C382.6,75.3 385.9,75.8 388.2,76.4 C390.4,76.9 392.6,77.9 394.9,78.5 C397.1,79.2 399.3,79.9 401.5,80.3 C403.8,80.6 406.0,80.5 408.2,80.7 C410.4,80.8 412.7,81.2 415.0,81.1 C417.3,81.1 419.5,80.7 421.8,80.6 C424.1,80.5 426.3,80.2 428.6,80.3 C430.9,80.5 433.2,80.7 435.4,81.5 C437.6,82.3 439.8,83.4 442.0,84.9 C444.2,86.3 446.4,88.2 448.6,90.0 C450.8,91.9 453.0,94.1 455.2,95.9 C457.4,97.7 459.6,99.2 461.8,100.8 C464.0,102.5 466.3,104.7 468.6,106.0 C470.8,107.3 473.1,108.0 475.4,108.5 C477.6,109.0 479.9,109.0 482.1,109.2 C484.4,109.4 486.6,109.7 488.9,109.8 C491.2,109.9 493.4,109.4 495.7,109.8 C498.0,110.2 500.2,111.0 502.5,112.1 C504.8,113.2 507.0,114.9 509.3,116.5 C511.6,118.1 513.9,120.2 516.1,121.9 C518.4,123.6 520.6,125.5 522.8,126.8 C525.0,128.1 527.3,129.1 529.5,129.7 C531.7,130.4 534.0,130.4 536.2,130.4 C538.4,130.5 540.7,130.3 542.9,129.8 C545.1,129.4 547.4,128.2 549.6,127.9 C551.8,127.5 554.1,127.4 556.3,127.8 C558.5,128.2 560.8,129.0 563.0,130.2 C565.2,131.4 567.5,133.3 569.7,134.9 C571.9,136.4 574.2,138.2 576.5,139.6 C578.7,141.0 581.0,142.5 583.2,143.4 C585.5,144.2 587.8,144.8 590.0,144.7 C592.3,144.7 595.7,143.5 596.8,143.3"/>
<path d="M381.5,133.1 C382.6,133.7 385.9,135.6 388.2,136.7 C390.4,137.8 392.6,139.0 394.9,139.8 C397.1,140.6 399.3,141.2 401.5,141.5 C403.8,141.7 406.0,141.4 408.2,141.2 C410.4,141.1 412.7,141.0 415.0,140.5 C417.3,139.9 419.5,138.9 421.8,137.9 C424.1,136.9 426.3,135.6 428.6,134.6 C430.9,133.5 433.2,132.4 435.4,131.8 C437.6,131.2 439.8,131.0 442.0,131.2 C444.2,131.4 446.4,132.2 448.6,133.3 C450.8,134.4 453.0,136.1 455.2,137.7 C457.4,139.4 459.6,141.1 461.8,143.3 C464.0,145.6 466.3,148.7 468.6,151.0 C470.8,153.3 473.1,155.4 475.4,157.1 C477.6,158.8 479.9,160.1 482.1,161.1 C484.4,162.1 486.6,162.9 488.9,163.0 C491.2,163.1 493.4,162.2 495.7,161.6 C498.0,161.0 500.2,160.0 502.5,159.3 C504.8,158.6 507.0,157.7 509.3,157.4 C511.6,157.0 513.9,156.8 516.1,157.2 C518.4,157.5 520.6,158.4 522.8,159.5 C525.0,160.7 527.3,162.4 529.5,164.1 C531.7,165.9 534.0,168.1 536.2,170.1 C538.4,172.1 540.7,174.5 542.9,176.0 C545.1,177.6 547.4,178.6 549.6,179.5 C551.8,180.3 554.1,181.0 556.3,181.2 C558.5,181.5 560.8,181.4 563.0,181.1 C565.2,180.7 567.5,180.1 569.7,179.1 C571.9,178.0 574.2,176.3 576.5,174.8 C578.7,173.4 581.0,171.7 583.2,170.4 C585.5,169.2 587.8,168.0 590.0,167.3 C592.3,166.6 595.7,166.6 596.8,166.4"/>
<path d="M381.5,67.7 C382.6,67.6 385.9,67.3 388.2,67.1 C390.4,66.9 392.6,66.7 394.9,66.5 C397.1,66.3 399.3,66.1 401.5,66.0 C403.8,65.9 406.0,65.5 408.2,65.7 C410.4,65.9 412.7,66.7 415.0,67.2 C417.3,67.8 419.5,68.4 421.8,69.0 C424.1,69.6 426.3,70.2 428.6,70.9 C430.9,71.6 433.2,72.3 435.4,73.0 C437.6,73.7 439.8,74.6 442.0,75.3 C444.2,76.1 446.4,77.0 448.6,77.8 C450.8,78.6 453.0,79.4 455.2,80.1 C457.4,80.9 459.6,81.2 461.8,82.3 C464.0,83.5 466.3,85.4 468.6,86.8 C470.8,88.3 473.1,89.7 475.4,91.2 C477.6,92.6 479.9,94.0 482.1,95.4 C484.4,96.8 486.6,98.6 488.9,99.7 C491.2,100.8 493.4,101.3 495.7,102.2 C498.0,103.0 500.2,103.9 502.5,104.8 C504.8,105.6 507.0,106.5 509.3,107.4 C511.6,108.2 513.9,109.1 516.1,109.8 C518.4,110.6 520.6,111.4 522.8,112.0 C525.0,112.7 527.3,113.3 529.5,113.9 C531.7,114.4 534.0,114.9 536.2,115.5 C538.4,116.0 540.7,116.8 542.9,117.1 C545.1,117.4 547.4,117.2 549.6,117.4 C551.8,117.6 554.1,117.8 556.3,118.1 C558.5,118.4 560.8,118.8 563.0,119.3 C565.2,119.7 567.5,120.4 569.7,120.7 C571.9,121.1 574.2,121.2 576.5,121.5 C578.7,121.7 581.0,121.9 583.2,122.1 C585.5,122.3 587.8,122.5 590.0,122.6 C592.3,122.8 595.7,123.0 596.8,123.0"/>
<path d="M381.5,79.1 C382.6,78.3 385.9,75.9 388.2,74.3 C390.4,72.8 392.6,71.0 394.9,69.7 C397.1,68.3 399.3,67.1 401.5,66.3 C403.8,65.5 406.0,64.7 408.2,64.8 C410.4,64.9 412.7,65.9 415.0,66.8 C417.3,67.7 419.5,68.9 421.8,70.2 C424.1,71.5 426.3,73.1 428.6,74.5 C430.9,76.0 433.2,77.5 435.4,78.9 C437.6,80.2 439.8,81.5 442.0,82.4 C444.2,83.4 446.4,84.1 448.6,84.5 C450.8,84.9 453.0,85.0 455.2,84.9 C457.4,84.9 459.6,84.1 461.8,84.3 C464.0,84.4 466.3,85.2 468.6,85.7 C470.8,86.2 473.1,86.7 475.4,87.5 C477.6,88.2 479.9,89.1 482.1,90.2 C484.4,91.2 486.6,92.8 488.9,93.9 C491.2,95.0 493.4,95.8 495.7,96.9 C498.0,97.9 500.2,99.2 502.5,100.4 C504.8,101.5 507.0,102.8 509.3,103.9 C511.6,104.9 513.9,106.0 516.1,106.8 C518.4,107.6 520.6,108.3 522.8,108.9 C525.0,109.4 527.3,109.7 529.5,110.1 C531.7,110.4 534.0,110.6 536.2,110.9 C538.4,111.2 540.7,111.7 542.9,111.9 C545.1,112.1 547.4,111.8 549.6,111.9 C551.8,112.0 554.1,112.2 556.3,112.5 C558.5,112.8 560.8,113.3 563.0,113.7 C565.2,114.1 567.5,114.7 569.7,114.9 C571.9,115.2 574.2,115.1 576.5,115.1 C578.7,115.0 581.0,114.9 583.2,114.6 C585.5,114.3 587.8,113.9 590.0,113.6 C592.3,113.2 595.7,112.6 596.8,112.4"/>
<path d="M381.5,99.8 C382.6,99.8 385.9,100.0 388.2,99.7 C390.4,99.4 392.6,98.8 394.9,98.1 C397.1,97.3 399.3,96.1 401.5,95.0 C403.8,93.9 406.0,92.2 408.2,91.5 C410.4,90.8 412.7,90.7 415.0,90.8 C417.3,90.8 419.5,91.2 421.8,92.0 C424.1,92.7 426.3,93.9 428.6,95.2 C430.9,96.4 433.2,98.1 435.4,99.5 C437.6,100.9 439.8,102.6 442.0,103.8 C444.2,105.0 446.4,105.9 448.6,106.6 C450.8,107.3 453.0,107.5 455.2,107.8 C457.4,108.0 459.6,107.4 461.8,107.9 C464.0,108.4 466.3,109.7 468.6,110.8 C470.8,112.0 473.1,113.3 475.4,114.8 C477.6,116.2 479.9,118.0 482.1,119.7 C484.4,121.4 486.6,123.7 488.9,124.9 C491.2,126.2 493.4,126.7 495.7,127.2 C498.0,127.7 500.2,128.0 502.5,128.1 C504.8,128.2 507.0,128.0 509.3,127.8 C511.6,127.7 513.9,127.3 516.1,127.3 C518.4,127.3 520.6,127.5 522.8,128.0 C525.0,128.4 527.3,129.2 529.5,130.2 C531.7,131.1 534.0,132.5 536.2,133.8 C538.4,135.0 540.7,136.9 542.9,137.9 C545.1,138.9 547.4,139.3 549.6,139.8 C551.8,140.2 554.1,140.4 556.3,140.6 C558.5,140.7 560.8,140.6 563.0,140.6 C565.2,140.6 567.5,140.5 569.7,140.5 C571.9,140.5 574.2,140.3 576.5,140.5 C578.7,140.6 581.0,141.0 583.2,141.5 C585.5,141.9 587.8,142.5 590.0,142.9 C592.3,143.3 595.7,143.6 596.8,143.7"/>
<path d="M381.5,130.5 C382.6,130.3 385.9,129.6 388.2,129.1 C390.4,128.7 392.6,128.2 394.9,127.9 C397.1,127.5 399.3,127.3 401.5,127.2 C403.8,127.0 406.0,126.7 408.2,126.8 C410.4,126.9 412.7,127.7 415.0,127.8 C417.3,128.0 419.5,128.1 421.8,127.9 C424.1,127.7 426.3,127.3 428.6,126.8 C430.9,126.3 433.2,125.4 435.4,124.9 C437.6,124.3 439.8,123.6 442.0,123.3 C444.2,123.0 446.4,122.8 448.6,123.0 C450.8,123.2 453.0,123.8 455.2,124.6 C457.4,125.5 459.6,126.3 461.8,128.0 C464.0,129.7 466.3,132.6 468.6,134.9 C470.8,137.2 473.1,139.6 475.4,141.7 C477.6,143.9 479.9,145.9 482.1,147.8 C484.4,149.7 486.6,151.6 488.9,153.0 C491.2,154.3 493.4,154.8 495.7,155.9 C498.0,156.9 500.2,157.8 502.5,159.0 C504.8,160.1 507.0,161.4 509.3,162.8 C511.6,164.1 513.9,165.6 516.1,167.0 C518.4,168.3 520.6,169.8 522.8,171.0 C525.0,172.2 527.3,173.3 529.5,174.0 C531.7,174.7 534.0,175.2 536.2,175.5 C538.4,175.7 540.7,175.8 542.9,175.3 C545.1,174.8 547.4,173.5 549.6,172.5 C551.8,171.5 554.1,170.3 556.3,169.5 C558.5,168.6 560.8,167.8 563.0,167.3 C565.2,166.9 567.5,166.9 569.7,166.8 C571.9,166.7 574.2,166.7 576.5,166.9 C578.7,167.1 581.0,167.5 583.2,167.8 C585.5,168.1 587.8,168.5 590.0,168.7 C592.3,168.8 595.7,168.9 596.8,168.9"/>
<path d="M381.5,78.7 C382.6,78.9 385.9,80.1 388.2,79.7 C390.4,79.3 392.6,77.9 394.9,76.4 C397.1,74.9 399.3,72.5 401.5,70.8 C403.8,69.0 406.0,66.8 408.2,66.0 C410.4,65.2 412.7,65.4 415.0,66.0 C417.3,66.5 419.5,67.9 421.8,69.5 C424.1,71.1 426.3,73.5 428.6,75.6 C430.9,77.7 433.2,80.4 435.4,82.1 C437.6,83.8 439.8,85.3 442.0,85.9 C444.2,86.4 446.4,85.9 448.6,85.3 C450.8,84.6 453.0,83.0 455.2,81.9 C457.4,80.8 459.6,79.0 461.8,78.8 C464.0,78.6 466.3,79.4 468.6,80.6 C470.8,81.7 473.1,83.4 475.4,85.5 C477.6,87.6 479.9,90.5 482.1,93.2 C484.4,95.8 486.6,99.4 488.9,101.5 C491.2,103.5 493.4,104.8 495.7,105.5 C498.0,106.2 500.2,106.1 502.5,105.8 C504.8,105.5 507.0,104.2 509.3,103.6 C511.6,102.9 513.9,102.0 516.1,101.8 C518.4,101.5 520.6,101.6 522.8,102.2 C525.0,102.8 527.3,103.9 529.5,105.4 C531.7,106.9 534.0,109.1 536.2,111.2 C538.4,113.2 540.7,116.1 542.9,117.6 C545.1,119.1 547.4,119.9 549.6,120.2 C551.8,120.4 554.1,119.9 556.3,119.1 C558.5,118.3 560.8,116.7 563.0,115.5 C565.2,114.4 567.5,113.0 569.7,112.2 C571.9,111.3 574.2,110.5 576.5,110.3 C578.7,110.2 581.0,110.6 583.2,111.3 C585.5,112.1 587.8,113.5 590.0,114.7 C592.3,115.9 595.7,117.9 596.8,118.6"/>
<path d="M381.5,86.4 C382.6,86.2 385.9,85.7 388.2,85.3 C390.4,84.9 392.6,84.4 394.9,83.8 C397.1,83.3 399.3,82.7 401.5,82.0 C403.8,81.4 406.0,80.3 408.2,79.9 C410.4,79.4 412.7,79.4 415.0,79.2 C417.3,79.0 419.5,78.7 421.8,78.5 C424.1,78.3 426.3,78.1 428.6,77.9 C430.9,77.8 433.2,77.6 435.4,77.6 C437.6,77.6 439.8,77.7 442.0,77.8 C444.2,77.9 446.4,78.0 448.6,78.2 C450.8,78.3 453.0,78.5 455.2,78.7 C457.4,78.9 459.6,78.7 461.8,79.2 C464.0,79.7 466.3,81.0 468.6,81.9 C470.8,82.8 473.1,83.6 475.4,84.5 C477.6,85.4 479.9,86.3 482.1,87.2 C484.4,88.2 486.6,89.4 488.9,90.2 C491.2,91.0 493.4,91.3 495.7,92.0 C498.0,92.7 500.2,93.5 502.5,94.4 C504.8,95.2 507.0,96.2 509.3,97.2 C511.6,98.1 513.9,99.2 516.1,100.1 C518.4,101.0 520.6,101.9 522.8,102.8 C525.0,103.6 527.3,104.4 529.5,105.1 C531.7,105.8 534.0,106.5 536.2,107.1 C538.4,107.7 540.7,108.5 542.9,108.8 C545.1,109.2 547.4,109.0 549.6,109.1 C551.8,109.2 554.1,109.3 556.3,109.5 C558.5,109.7 560.8,109.9 563.0,110.2 C565.2,110.4 567.5,110.8 569.7,111.0 C571.9,111.1 574.2,111.0 576.5,110.9 C578.7,110.9 581.0,110.8 583.2,110.7 C585.5,110.5 587.8,110.3 590.0,110.0 C592.3,109.7 595.7,109.1 596.8,109.0"/>
<path d="M381.5,89.2 C382.6,89.2 385.9,88.9 388.2,88.8 C390.4,88.6 392.6,88.5 394.9,88.3 C397.1,88.2 399.3,88.1 401.5,88.1 C403.8,88.0 406.0,87.7 408.2,88.1 C410.4,88.4 412.7,89.3 415.0,90.0 C417.3,90.7 419.5,91.5 421.8,92.3 C424.1,93.0 426.3,93.8 428.6,94.7 C430.9,95.5 433.2,96.3 435.4,97.3 C437.6,98.2 439.8,99.2 442.0,100.2 C444.2,101.1 446.4,102.1 448.6,103.1 C450.8,104.0 453.0,105.0 455.2,105.9 C457.4,106.8 459.6,107.2 461.8,108.4 C464.0,109.6 466.3,111.6 468.6,113.1 C470.8,114.7 473.1,116.1 475.4,117.5 C477.6,119.0 479.9,120.3 482.1,121.7 C484.4,123.1 486.6,124.8 488.9,125.9 C491.2,126.9 493.4,127.3 495.7,128.1 C498.0,128.9 500.2,129.7 502.5,130.6 C504.8,131.4 507.0,132.4 509.3,133.3 C511.6,134.2 513.9,135.1 516.1,136.0 C518.4,137.0 520.6,138.0 522.8,138.9 C525.0,139.9 527.3,140.8 529.5,141.7 C531.7,142.6 534.0,143.4 536.2,144.3 C538.4,145.2 540.7,146.4 542.9,147.0 C545.1,147.7 547.4,147.8 549.6,148.3 C551.8,148.8 554.1,149.4 556.3,150.0 C558.5,150.6 560.8,151.3 563.0,151.9 C565.2,152.6 567.5,153.4 569.7,153.9 C571.9,154.3 574.2,154.5 576.5,154.7 C578.7,155.0 581.0,155.1 583.2,155.2 C585.5,155.3 587.8,155.4 590.0,155.4 C592.3,155.4 595.7,155.4 596.8,155.3"/>
<path d="M381.5,118.5 C382.6,118.3 385.9,118.1 388.2,117.3 C390.4,116.4 392.6,115.0 394.9,113.4 C397.1,111.8 399.3,109.6 401.5,107.5 C403.8,105.4 406.0,102.5 408.2,100.6 C410.4,98.7 412.7,97.2 415.0,95.9 C417.3,94.6 419.5,93.5 421.8,92.9 C424.1,92.3 426.3,92.1 428.6,92.3 C430.9,92.4 433.2,93.0 435.4,93.9 C437.6,94.8 439.8,96.2 442.0,97.6 C444.2,99.0 446.4,100.6 448.6,102.1 C450.8,103.5 453.0,105.1 455.2,106.3 C457.4,107.5 459.6,108.1 461.8,109.3 C464.0,110.5 466.3,112.3 468.6,113.6 C470.8,114.8 473.1,115.8 475.4,116.9 C477.6,118.0 479.9,118.9 482.1,120.2 C484.4,121.5 486.6,123.2 488.9,124.6 C491.2,126.0 493.4,127.1 495.7,128.8 C498.0,130.6 500.2,132.9 502.5,135.2 C504.8,137.6 507.0,140.5 509.3,143.1 C511.6,145.8 513.9,148.7 516.1,151.2 C518.4,153.7 520.6,156.2 522.8,158.1 C525.0,160.1 527.3,161.7 529.5,162.8 C531.7,163.9 534.0,164.5 536.2,164.7 C538.4,165.0 540.7,165.0 542.9,164.2 C545.1,163.5 547.4,161.7 549.6,160.3 C551.8,158.9 554.1,157.1 556.3,155.7 C558.5,154.2 560.8,152.7 563.0,151.6 C565.2,150.5 567.5,149.7 569.7,149.0 C571.9,148.3 574.2,147.7 576.5,147.4 C578.7,147.1 581.0,147.2 583.2,147.3 C585.5,147.4 587.8,147.8 590.0,148.0 C592.3,148.3 595.7,148.6 596.8,148.8"/>
<path d="M381.5,115.9 C382.6,114.3 385.9,108.8 388.2,106.1 C390.4,103.5 392.6,101.1 394.9,99.8 C397.1,98.4 399.3,97.9 401.5,98.1 C403.8,98.3 406.0,99.3 408.2,101.2 C410.4,103.1 412.7,106.5 415.0,109.5 C417.3,112.5 419.5,116.1 421.8,119.1 C424.1,122.2 426.3,125.3 428.6,127.7 C430.9,130.1 433.2,132.2 435.4,133.6 C437.6,135.0 439.8,135.9 442.0,136.2 C444.2,136.5 446.4,136.1 448.6,135.3 C450.8,134.5 453.0,133.0 455.2,131.3 C457.4,129.7 459.6,126.9 461.8,125.3 C464.0,123.7 466.3,122.6 468.6,121.7 C470.8,120.8 473.1,119.9 475.4,119.7 C477.6,119.5 479.9,119.7 482.1,120.6 C484.4,121.5 486.6,123.4 488.9,124.9 C491.2,126.5 493.4,128.0 495.7,130.0 C498.0,132.0 500.2,134.5 502.5,136.7 C504.8,138.9 507.0,141.4 509.3,143.3 C511.6,145.3 513.9,147.1 516.1,148.4 C518.4,149.7 520.6,150.8 522.8,151.3 C525.0,151.9 527.3,151.9 529.5,151.7 C531.7,151.5 534.0,150.8 536.2,150.2 C538.4,149.6 540.7,148.9 542.9,148.0 C545.1,147.1 547.4,145.5 549.6,144.7 C551.8,144.0 554.1,143.4 556.3,143.2 C558.5,143.1 560.8,143.3 563.0,143.7 C565.2,144.2 567.5,145.2 569.7,145.8 C571.9,146.5 574.2,147.2 576.5,147.7 C578.7,148.2 581.0,148.8 583.2,149.0 C585.5,149.1 587.8,149.1 590.0,148.8 C592.3,148.4 595.7,147.1 596.8,146.8"/>
<path d="M381.5,141.6 C382.6,141.8 385.9,142.0 388.2,142.9 C390.4,143.9 392.6,145.7 394.9,147.3 C397.1,148.9 399.3,151.0 401.5,152.6 C403.8,154.2 406.0,155.6 408.2,156.8 C410.4,158.1 412.7,159.5 415.0,160.2 C417.3,160.9 419.5,161.1 421.8,161.0 C424.1,161.0 426.3,160.4 428.6,159.7 C430.9,159.0 433.2,157.7 435.4,156.9 C437.6,156.0 439.8,154.9 442.0,154.3 C444.2,153.8 446.4,153.5 448.6,153.7 C450.8,153.9 453.0,154.8 455.2,155.7 C457.4,156.6 459.6,157.8 461.8,159.3 C464.0,160.8 466.3,163.2 468.6,164.7 C470.8,166.2 473.1,167.4 475.4,168.2 C477.6,168.9 479.9,169.3 482.1,169.3 C484.4,169.2 486.6,169.0 488.9,168.1 C491.2,167.3 493.4,165.4 495.7,164.3 C498.0,163.2 500.2,161.8 502.5,161.5 C504.8,161.2 507.0,161.4 509.3,162.4 C511.6,163.5 513.9,165.7 516.1,168.0 C518.4,170.3 520.6,173.6 522.8,176.3 C525.0,179.0 527.3,182.0 529.5,184.3 C531.7,186.6 534.0,188.5 536.2,190.0 C538.4,191.4 540.7,192.6 542.9,193.0 C545.1,193.5 547.4,193.1 549.6,192.8 C551.8,192.5 554.1,191.7 556.3,191.2 C558.5,190.6 560.8,189.8 563.0,189.5 C565.2,189.2 567.5,189.3 569.7,189.5 C571.9,189.7 574.2,190.0 576.5,190.6 C578.7,191.2 581.0,192.3 583.2,193.1 C585.5,193.8 587.8,194.7 590.0,195.2 C592.3,195.6 595.7,195.6 596.8,195.6"/>
<path d="M381.5,151.9 C382.6,152.6 385.9,154.6 388.2,155.7 C390.4,156.8 392.6,157.8 394.9,158.5 C397.1,159.2 399.3,159.6 401.5,159.9 C403.8,160.1 406.0,159.9 408.2,159.9 C410.4,160.0 412.7,160.2 415.0,160.3 C417.3,160.3 419.5,160.2 421.8,160.4 C424.1,160.5 426.3,160.7 428.6,161.2 C430.9,161.7 433.2,162.4 435.4,163.4 C437.6,164.4 439.8,165.8 442.0,167.1 C444.2,168.5 446.4,170.1 448.6,171.4 C450.8,172.8 453.0,174.2 455.2,175.3 C457.4,176.4 459.6,177.2 461.8,178.1 C464.0,179.0 466.3,180.1 468.6,180.7 C470.8,181.3 473.1,181.7 475.4,181.9 C477.6,182.0 479.9,181.9 482.1,181.7 C484.4,181.5 486.6,181.1 488.9,180.4 C491.2,179.8 493.4,178.6 495.7,177.8 C498.0,177.1 500.2,176.1 502.5,176.0 C504.8,175.8 507.0,175.9 509.3,176.7 C511.6,177.5 513.9,179.1 516.1,180.8 C518.4,182.4 520.6,184.7 522.8,186.6 C525.0,188.6 527.3,190.8 529.5,192.5 C531.7,194.3 534.0,195.9 536.2,197.2 C538.4,198.5 540.7,199.7 542.9,200.5 C545.1,201.2 547.4,201.5 549.6,201.8 C551.8,202.2 554.1,202.3 556.3,202.4 C558.5,202.5 560.8,202.4 563.0,202.5 C565.2,202.6 567.5,202.9 569.7,202.8 C571.9,202.8 574.2,202.3 576.5,202.2 C578.7,202.2 581.0,202.3 583.2,202.5 C585.5,202.7 587.8,203.1 590.0,203.3 C592.3,203.5 595.7,203.7 596.8,203.8"/>
<path d="M381.5,126.8 C382.6,125.6 385.9,121.0 388.2,119.6 C390.4,118.2 392.6,117.6 394.9,118.3 C397.1,119.1 399.3,121.3 401.5,124.0 C403.8,126.6 406.0,130.5 408.2,134.2 C410.4,137.9 412.7,142.8 415.0,146.3 C417.3,149.8 419.5,152.9 421.8,155.3 C424.1,157.7 426.3,159.3 428.6,160.5 C430.9,161.7 433.2,162.2 435.4,162.5 C437.6,162.7 439.8,162.5 442.0,162.2 C444.2,161.8 446.4,160.9 448.6,160.2 C450.8,159.5 453.0,158.5 455.2,158.0 C457.4,157.6 459.6,156.9 461.8,157.4 C464.0,157.9 466.3,159.7 468.6,161.2 C470.8,162.8 473.1,164.8 475.4,166.5 C477.6,168.2 479.9,170.2 482.1,171.6 C484.4,173.0 486.6,174.5 488.9,175.0 C491.2,175.6 493.4,175.5 495.7,175.0 C498.0,174.4 500.2,173.3 502.5,171.7 C504.8,170.1 507.0,167.6 509.3,165.3 C511.6,163.0 513.9,159.9 516.1,158.0 C518.4,156.1 520.6,154.3 522.8,153.9 C525.0,153.5 527.3,154.1 529.5,155.8 C531.7,157.5 534.0,160.7 536.2,164.1 C538.4,167.5 540.7,172.5 542.9,176.2 C545.1,179.9 547.4,183.4 549.6,186.4 C551.8,189.3 554.1,191.9 556.3,193.8 C558.5,195.7 560.8,197.0 563.0,197.9 C565.2,198.8 567.5,199.4 569.7,199.3 C571.9,199.1 574.2,197.9 576.5,196.9 C578.7,195.9 581.0,194.5 583.2,193.4 C585.5,192.3 587.8,191.0 590.0,190.2 C592.3,189.4 595.7,188.9 596.8,188.6"/>
<path d="M381.5,129.0 C382.6,128.9 385.9,128.6 388.2,128.0 C390.4,127.4 392.6,126.3 394.9,125.3 C397.1,124.3 399.3,122.9 401.5,121.9 C403.8,120.9 406.0,119.5 408.2,119.2 C410.4,118.9 412.7,119.4 415.0,120.0 C417.3,120.6 419.5,121.6 421.8,122.7 C424.1,123.7 426.3,125.1 428.6,126.2 C430.9,127.3 433.2,128.5 435.4,129.3 C437.6,130.2 439.8,130.9 442.0,131.2 C444.2,131.5 446.4,131.5 448.6,131.3 C450.8,131.1 453.0,130.6 455.2,130.3 C457.4,129.9 459.6,129.0 461.8,129.3 C464.0,129.6 466.3,130.9 468.6,132.2 C470.8,133.4 473.1,135.0 475.4,136.8 C477.6,138.5 479.9,140.6 482.1,142.5 C484.4,144.4 486.6,146.8 488.9,148.2 C491.2,149.6 493.4,150.3 495.7,150.9 C498.0,151.5 500.2,151.9 502.5,152.1 C504.8,152.3 507.0,152.2 509.3,152.1 C511.6,152.1 513.9,151.8 516.1,152.0 C518.4,152.1 520.6,152.3 522.8,152.9 C525.0,153.4 527.3,154.2 529.5,155.2 C531.7,156.2 534.0,157.5 536.2,158.7 C538.4,159.9 540.7,161.6 542.9,162.4 C545.1,163.2 547.4,163.4 549.6,163.5 C551.8,163.7 554.1,163.6 556.3,163.3 C558.5,163.0 560.8,162.4 563.0,161.9 C565.2,161.4 567.5,160.8 569.7,160.2 C571.9,159.7 574.2,158.8 576.5,158.5 C578.7,158.2 581.0,158.2 583.2,158.4 C585.5,158.6 587.8,159.2 590.0,159.7 C592.3,160.2 595.7,161.1 596.8,161.4"/>
<path d="M381.5,147.3 C382.6,146.8 385.9,144.9 388.2,144.4 C390.4,143.9 392.6,143.8 394.9,144.1 C397.1,144.5 399.3,145.5 401.5,146.4 C403.8,147.3 406.0,148.4 408.2,149.6 C410.4,150.8 412.7,152.5 415.0,153.5 C417.3,154.4 419.5,155.2 421.8,155.4 C424.1,155.7 426.3,155.6 428.6,155.2 C430.9,154.8 433.2,153.8 435.4,153.0 C437.6,152.1 439.8,150.9 442.0,150.1 C444.2,149.3 446.4,148.4 448.6,148.2 C450.8,148.0 453.0,148.2 455.2,148.9 C457.4,149.6 459.6,150.7 461.8,152.5 C464.0,154.3 466.3,157.4 468.6,159.8 C470.8,162.1 473.1,164.6 475.4,166.5 C477.6,168.4 479.9,170.1 482.1,171.3 C484.4,172.5 486.6,173.6 488.9,173.9 C491.2,174.2 493.4,173.7 495.7,173.3 C498.0,172.8 500.2,171.9 502.5,171.2 C504.8,170.5 507.0,169.4 509.3,169.1 C511.6,168.7 513.9,168.4 516.1,168.9 C518.4,169.3 520.6,170.4 522.8,171.8 C525.0,173.1 527.3,175.1 529.5,176.8 C531.7,178.6 534.0,180.7 536.2,182.3 C538.4,183.9 540.7,185.7 542.9,186.6 C545.1,187.4 547.4,187.5 549.6,187.3 C551.8,187.2 554.1,186.6 556.3,185.8 C558.5,185.0 560.8,183.6 563.0,182.3 C565.2,181.0 567.5,179.4 569.7,178.1 C571.9,176.8 574.2,175.1 576.5,174.4 C578.7,173.6 581.0,173.4 583.2,173.7 C585.5,173.9 587.8,175.0 590.0,176.0 C592.3,177.0 595.7,179.1 596.8,179.7"/>
<path d="M381.5,141.5 C382.6,140.5 385.9,137.4 388.2,135.4 C390.4,133.4 392.6,131.2 394.9,129.7 C397.1,128.2 399.3,126.9 401.5,126.3 C403.8,125.7 406.0,125.4 408.2,125.9 C410.4,126.5 412.7,128.2 415.0,129.4 C417.3,130.6 419.5,132.0 421.8,133.0 C424.1,134.0 426.3,134.9 428.6,135.3 C430.9,135.8 433.2,135.8 435.4,135.6 C437.6,135.5 439.8,135.0 442.0,134.6 C444.2,134.2 446.4,133.5 448.6,133.4 C450.8,133.3 453.0,133.3 455.2,133.9 C457.4,134.6 459.6,135.3 461.8,137.2 C464.0,139.2 466.3,142.7 468.6,145.6 C470.8,148.5 473.1,151.9 475.4,154.8 C477.6,157.6 479.9,160.5 482.1,162.8 C484.4,165.1 486.6,167.2 488.9,168.5 C491.2,169.8 493.4,170.1 495.7,170.3 C498.0,170.6 500.2,170.4 502.5,170.1 C504.8,169.8 507.0,169.0 509.3,168.5 C511.6,168.1 513.9,167.3 516.1,167.1 C518.4,166.9 520.6,166.9 522.8,167.3 C525.0,167.6 527.3,168.4 529.5,169.2 C531.7,170.1 534.0,171.3 536.2,172.3 C538.4,173.3 540.7,174.6 542.9,175.1 C545.1,175.5 547.4,175.2 549.6,174.8 C551.8,174.4 554.1,173.6 556.3,172.6 C558.5,171.6 560.8,170.1 563.0,168.8 C565.2,167.5 567.5,166.0 569.7,164.9 C571.9,163.7 574.2,162.4 576.5,161.9 C578.7,161.5 581.0,161.6 583.2,162.2 C585.5,162.9 587.8,164.3 590.0,165.8 C592.3,167.2 595.7,170.2 596.8,171.0"/>
<path d="M381.5,137.1 C382.6,137.4 385.9,137.9 388.2,138.9 C390.4,139.9 392.6,141.6 394.9,143.2 C397.1,144.8 399.3,146.8 401.5,148.4 C403.8,150.0 406.0,151.4 408.2,152.7 C410.4,154.1 412.7,155.6 415.0,156.5 C417.3,157.5 419.5,158.0 421.8,158.3 C424.1,158.5 426.3,158.4 428.6,158.2 C430.9,158.0 433.2,157.4 435.4,157.0 C437.6,156.7 439.8,156.2 442.0,156.0 C444.2,155.9 446.4,155.8 448.6,156.1 C450.8,156.3 453.0,156.8 455.2,157.5 C457.4,158.1 459.6,158.7 461.8,159.8 C464.0,160.9 466.3,162.9 468.6,164.1 C470.8,165.4 473.1,166.5 475.4,167.3 C477.6,168.2 479.9,168.8 482.1,169.2 C484.4,169.7 486.6,170.0 488.9,170.1 C491.2,170.1 493.4,169.4 495.7,169.4 C498.0,169.3 500.2,169.3 502.5,169.9 C504.8,170.4 507.0,171.4 509.3,172.9 C511.6,174.3 513.9,176.4 516.1,178.4 C518.4,180.5 520.6,183.0 522.8,185.1 C525.0,187.2 527.3,189.4 529.5,191.1 C531.7,192.8 534.0,194.3 536.2,195.5 C538.4,196.7 540.7,197.7 542.9,198.2 C545.1,198.7 547.4,198.6 549.6,198.5 C551.8,198.4 554.1,198.0 556.3,197.6 C558.5,197.1 560.8,196.4 563.0,195.9 C565.2,195.4 567.5,195.0 569.7,194.5 C571.9,194.0 574.2,193.2 576.5,192.9 C578.7,192.6 581.0,192.6 583.2,192.5 C585.5,192.5 587.8,192.7 590.0,192.8 C592.3,192.8 595.7,192.8 596.8,192.8"/>
<path d="M381.5,82.9 C382.6,82.2 385.9,80.0 388.2,78.8 C390.4,77.6 392.6,76.3 394.9,75.5 C397.1,74.8 399.3,74.2 401.5,74.2 C403.8,74.1 406.0,74.1 408.2,75.1 C410.4,76.0 412.7,78.0 415.0,79.8 C417.3,81.6 419.5,83.9 421.8,86.0 C424.1,88.1 426.3,90.5 428.6,92.5 C430.9,94.5 433.2,96.4 435.4,97.9 C437.6,99.4 439.8,100.7 442.0,101.5 C444.2,102.4 446.4,102.8 448.6,103.1 C450.8,103.3 453.0,103.2 455.2,103.1 C457.4,103.0 459.6,102.2 461.8,102.6 C464.0,102.9 466.3,104.1 468.6,105.1 C470.8,106.2 473.1,107.4 475.4,108.8 C477.6,110.2 479.9,111.9 482.1,113.6 C484.4,115.3 486.6,117.6 488.9,119.0 C491.2,120.5 493.4,121.3 495.7,122.2 C498.0,123.0 500.2,123.8 502.5,124.2 C504.8,124.5 507.0,124.6 509.3,124.5 C511.6,124.3 513.9,123.8 516.1,123.3 C518.4,122.8 520.6,122.1 522.8,121.6 C525.0,121.1 527.3,120.5 529.5,120.4 C531.7,120.3 534.0,120.3 536.2,120.8 C538.4,121.3 540.7,122.4 542.9,123.4 C545.1,124.3 547.4,125.2 549.6,126.6 C551.8,128.0 554.1,129.9 556.3,131.8 C558.5,133.6 560.8,135.8 563.0,137.6 C565.2,139.4 567.5,141.4 569.7,142.7 C571.9,143.9 574.2,144.5 576.5,144.9 C578.7,145.3 581.0,145.3 583.2,145.0 C585.5,144.8 587.8,144.1 590.0,143.6 C592.3,143.0 595.7,142.0 596.8,141.7"/>
<path d="M381.5,88.6 C382.6,88.0 385.9,85.7 388.2,84.7 C390.4,83.8 392.6,83.2 394.9,83.1 C397.1,82.9 399.3,83.3 401.5,83.7 C403.8,84.2 406.0,84.8 408.2,85.8 C410.4,86.7 412.7,88.4 415.0,89.4 C417.3,90.3 419.5,91.0 421.8,91.3 C424.1,91.5 426.3,91.3 428.6,90.9 C430.9,90.4 433.2,89.5 435.4,88.8 C437.6,88.1 439.8,87.2 442.0,86.7 C444.2,86.2 446.4,85.9 448.6,86.0 C450.8,86.1 453.0,86.5 455.2,87.3 C457.4,88.1 459.6,88.9 461.8,90.6 C464.0,92.4 466.3,95.3 468.6,97.6 C470.8,99.8 473.1,102.3 475.4,104.1 C477.6,106.0 479.9,107.7 482.1,108.9 C484.4,110.1 486.6,111.2 488.9,111.4 C491.2,111.7 493.4,110.7 495.7,110.4 C498.0,110.1 500.2,109.5 502.5,109.4 C504.8,109.3 507.0,109.3 509.3,109.8 C511.6,110.2 513.9,111.0 516.1,112.1 C518.4,113.2 520.6,114.8 522.8,116.3 C525.0,117.8 527.3,119.7 529.5,121.3 C531.7,122.9 534.0,124.5 536.2,125.6 C538.4,126.8 540.7,127.9 542.9,128.1 C545.1,128.2 547.4,127.3 549.6,126.6 C551.8,125.9 554.1,124.7 556.3,123.8 C558.5,122.9 560.8,121.8 563.0,121.2 C565.2,120.5 567.5,120.1 569.7,119.9 C571.9,119.6 574.2,119.4 576.5,119.6 C578.7,119.9 581.0,120.5 583.2,121.1 C585.5,121.7 587.8,122.7 590.0,123.4 C592.3,124.1 595.7,124.8 596.8,125.1"/>
<path d="M381.5,139.7 C382.6,140.5 385.9,143.2 388.2,144.8 C390.4,146.4 392.6,148.5 394.9,149.5 C397.1,150.4 399.3,151.0 401.5,150.6 C403.8,150.2 406.0,148.6 408.2,147.2 C410.4,145.7 412.7,143.4 415.0,141.7 C417.3,139.9 419.5,137.4 421.8,136.6 C424.1,135.9 426.3,135.8 428.6,136.9 C430.9,138.0 433.2,140.8 435.4,143.3 C437.6,145.8 439.8,149.6 442.0,152.1 C444.2,154.5 446.4,156.9 448.6,158.2 C450.8,159.5 453.0,160.0 455.2,159.8 C457.4,159.6 459.6,157.8 461.8,156.8 C464.0,155.9 466.3,154.5 468.6,153.9 C470.8,153.4 473.1,152.7 475.4,153.5 C477.6,154.4 479.9,156.5 482.1,159.0 C484.4,161.4 486.6,165.6 488.9,168.5 C491.2,171.3 493.4,174.1 495.7,176.1 C498.0,178.1 500.2,179.7 502.5,180.5 C504.8,181.4 507.0,181.4 509.3,181.0 C511.6,180.5 513.9,178.9 516.1,177.7 C518.4,176.5 520.6,174.4 522.8,173.8 C525.0,173.1 527.3,172.8 529.5,173.6 C531.7,174.5 534.0,176.8 536.2,179.0 C538.4,181.1 540.7,184.5 542.9,186.5 C545.1,188.5 547.4,190.0 549.6,190.9 C551.8,191.7 554.1,192.0 556.3,191.5 C558.5,191.1 560.8,189.7 563.0,188.1 C565.2,186.5 567.5,184.0 569.7,182.2 C571.9,180.4 574.2,177.9 576.5,177.1 C578.7,176.4 581.0,176.8 583.2,177.8 C585.5,178.8 587.8,181.3 590.0,183.0 C592.3,184.8 595.7,187.3 596.8,188.2"/>
<path d="M381.5,71.3 C382.6,70.6 385.9,68.7 388.2,67.6 C390.4,66.5 392.6,65.4 394.9,64.7 C397.1,64.0 399.3,63.5 401.5,63.4 C403.8,63.2 406.0,63.0 408.2,63.6 C410.4,64.2 412.7,65.6 415.0,66.9 C417.3,68.1 419.5,69.6 421.8,71.0 C424.1,72.4 426.3,74.0 428.6,75.3 C430.9,76.5 433.2,77.7 435.4,78.6 C437.6,79.5 439.8,80.2 442.0,80.5 C444.2,80.9 446.4,80.8 448.6,80.7 C450.8,80.5 453.0,80.0 455.2,79.5 C457.4,79.1 459.6,78.1 461.8,78.0 C464.0,78.0 466.3,78.7 468.6,79.3 C470.8,79.9 473.1,80.5 475.4,81.5 C477.6,82.4 479.9,83.5 482.1,84.8 C484.4,86.1 486.6,87.9 488.9,89.2 C491.2,90.6 493.4,91.6 495.7,92.8 C498.0,94.0 500.2,95.3 502.5,96.4 C504.8,97.5 507.0,98.5 509.3,99.2 C511.6,100.0 513.9,100.5 516.1,100.8 C518.4,101.1 520.6,101.1 522.8,101.0 C525.0,100.9 527.3,100.6 529.5,100.4 C531.7,100.2 534.0,99.9 536.2,99.8 C538.4,99.8 540.7,100.0 542.9,100.0 C545.1,100.0 547.4,99.8 549.6,99.9 C551.8,100.1 554.1,100.5 556.3,101.0 C558.5,101.5 560.8,102.3 563.0,103.1 C565.2,103.9 567.5,105.0 569.7,105.8 C571.9,106.6 574.2,107.3 576.5,107.9 C578.7,108.4 581.0,108.9 583.2,109.1 C585.5,109.3 587.8,109.3 590.0,109.1 C592.3,108.9 595.7,108.1 596.8,107.9"/>
<path d="M381.5,88.0 C382.6,88.2 385.9,88.7 388.2,89.4 C390.4,90.1 392.6,91.2 394.9,92.2 C397.1,93.3 399.3,94.5 401.5,95.5 C403.8,96.4 406.0,97.0 408.2,97.8 C410.4,98.6 412.7,99.6 415.0,100.1 C417.3,100.5 419.5,100.5 421.8,100.3 C424.1,100.2 426.3,99.6 428.6,99.1 C430.9,98.6 433.2,97.8 435.4,97.4 C437.6,97.0 439.8,96.7 442.0,96.7 C444.2,96.7 446.4,97.0 448.6,97.5 C450.8,98.1 453.0,99.0 455.2,100.1 C457.4,101.2 459.6,102.2 461.8,104.0 C464.0,105.8 466.3,108.7 468.6,110.8 C470.8,112.9 473.1,115.1 475.4,116.7 C477.6,118.4 479.9,119.8 482.1,120.7 C484.4,121.7 486.6,122.6 488.9,122.5 C491.2,122.5 493.4,121.2 495.7,120.3 C498.0,119.5 500.2,118.2 502.5,117.2 C504.8,116.3 507.0,115.2 509.3,114.5 C511.6,113.9 513.9,113.3 516.1,113.2 C518.4,113.1 520.6,113.4 522.8,113.9 C525.0,114.4 527.3,115.3 529.5,116.3 C531.7,117.4 534.0,118.8 536.2,120.3 C538.4,121.7 540.7,123.8 542.9,125.1 C545.1,126.3 547.4,127.2 549.6,128.0 C551.8,128.9 554.1,129.7 556.3,130.1 C558.5,130.5 560.8,130.7 563.0,130.6 C565.2,130.6 567.5,130.3 569.7,129.7 C571.9,129.1 574.2,128.0 576.5,127.2 C578.7,126.3 581.0,125.4 583.2,124.7 C585.5,124.1 587.8,123.6 590.0,123.3 C592.3,123.1 595.7,123.5 596.8,123.5"/>
<path d="M381.5,77.6 C382.6,77.1 385.9,75.5 388.2,74.5 C390.4,73.4 392.6,72.3 394.9,71.3 C397.1,70.3 399.3,69.3 401.5,68.4 C403.8,67.6 406.0,66.5 408.2,66.1 C410.4,65.6 412.7,65.8 415.0,65.8 C417.3,65.8 419.5,65.9 421.8,66.0 C424.1,66.2 426.3,66.4 428.6,66.6 C430.9,66.9 433.2,67.2 435.4,67.6 C437.6,68.0 439.8,68.5 442.0,69.0 C444.2,69.6 446.4,70.2 448.6,70.9 C450.8,71.6 453.0,72.4 455.2,73.2 C457.4,74.0 459.6,74.5 461.8,75.8 C464.0,77.1 466.3,79.2 468.6,80.9 C470.8,82.6 473.1,84.3 475.4,86.0 C477.6,87.8 479.9,89.5 482.1,91.1 C484.4,92.8 486.6,94.8 488.9,96.1 C491.2,97.4 493.4,98.1 495.7,99.0 C498.0,99.9 500.2,100.9 502.5,101.7 C504.8,102.6 507.0,103.5 509.3,104.2 C511.6,104.9 513.9,105.7 516.1,106.2 C518.4,106.8 520.6,107.3 522.8,107.7 C525.0,108.0 527.3,108.3 529.5,108.4 C531.7,108.6 534.0,108.6 536.2,108.6 C538.4,108.6 540.7,108.7 542.9,108.5 C545.1,108.2 547.4,107.4 549.6,106.9 C551.8,106.5 554.1,106.1 556.3,105.8 C558.5,105.5 560.8,105.3 563.0,105.1 C565.2,105.0 567.5,105.1 569.7,105.0 C571.9,104.9 574.2,104.6 576.5,104.5 C578.7,104.4 581.0,104.4 583.2,104.3 C585.5,104.3 587.8,104.3 590.0,104.3 C592.3,104.3 595.7,104.4 596.8,104.4"/>
<path d="M381.5,110.9 C382.6,110.2 385.9,108.4 388.2,106.7 C390.4,105.0 392.6,102.8 394.9,100.7 C397.1,98.6 399.3,96.3 401.5,94.2 C403.8,92.1 406.0,89.6 408.2,88.1 C410.4,86.5 412.7,85.7 415.0,84.8 C417.3,84.0 419.5,83.4 421.8,83.0 C424.1,82.7 426.3,82.7 428.6,83.0 C430.9,83.3 433.2,83.8 435.4,84.8 C437.6,85.8 439.8,87.2 442.0,89.0 C444.2,90.7 446.4,92.9 448.6,95.3 C450.8,97.6 453.0,100.5 455.2,103.3 C457.4,106.0 459.6,108.7 461.8,111.9 C464.0,115.1 466.3,119.3 468.6,122.5 C470.8,125.7 473.1,128.7 475.4,131.2 C477.6,133.7 479.9,135.8 482.1,137.6 C484.4,139.3 486.6,141.0 488.9,141.7 C491.2,142.4 493.4,142.1 495.7,141.9 C498.0,141.7 500.2,141.2 502.5,140.6 C504.8,140.0 507.0,139.2 509.3,138.2 C511.6,137.3 513.9,136.2 516.1,135.1 C518.4,134.0 520.6,132.9 522.8,131.8 C525.0,130.8 527.3,129.6 529.5,128.8 C531.7,128.0 534.0,127.3 536.2,127.0 C538.4,126.8 540.7,127.0 542.9,127.3 C545.1,127.6 547.4,127.7 549.6,128.7 C551.8,129.6 554.1,131.1 556.3,132.9 C558.5,134.8 560.8,137.2 563.0,139.7 C565.2,142.2 567.5,145.3 569.7,147.8 C571.9,150.3 574.2,152.7 576.5,154.8 C578.7,156.9 581.0,158.9 583.2,160.4 C585.5,161.8 587.8,163.0 590.0,163.8 C592.3,164.6 595.7,164.9 596.8,165.1"/>
<path d="M381.5,120.3 C382.6,119.9 385.9,118.6 388.2,118.3 C390.4,118.0 392.6,118.2 394.9,118.7 C397.1,119.2 399.3,120.2 401.5,121.2 C403.8,122.3 406.0,123.5 408.2,125.1 C410.4,126.7 412.7,129.0 415.0,130.7 C417.3,132.3 419.5,133.9 421.8,135.1 C424.1,136.3 426.3,137.2 428.6,137.7 C430.9,138.2 433.2,138.3 435.4,138.3 C437.6,138.2 439.8,137.8 442.0,137.3 C444.2,136.8 446.4,136.0 448.6,135.3 C450.8,134.6 453.0,133.6 455.2,133.0 C457.4,132.5 459.6,131.5 461.8,131.8 C464.0,132.1 466.3,133.5 468.6,134.8 C470.8,136.2 473.1,138.0 475.4,139.9 C477.6,141.9 479.9,144.3 482.1,146.7 C484.4,149.1 486.6,152.1 488.9,154.2 C491.2,156.4 493.4,158.0 495.7,159.6 C498.0,161.2 500.2,162.7 502.5,163.9 C504.8,165.1 507.0,166.0 509.3,166.6 C511.6,167.2 513.9,167.5 516.1,167.5 C518.4,167.5 520.6,167.2 522.8,166.8 C525.0,166.5 527.3,165.8 529.5,165.3 C531.7,164.8 534.0,164.1 536.2,163.9 C538.4,163.7 540.7,163.9 542.9,164.0 C545.1,164.2 547.4,164.1 549.6,164.7 C551.8,165.3 554.1,166.4 556.3,167.7 C558.5,168.9 560.8,170.7 563.0,172.2 C565.2,173.7 567.5,175.6 569.7,176.9 C571.9,178.1 574.2,178.9 576.5,179.5 C578.7,180.1 581.0,180.4 583.2,180.3 C585.5,180.3 587.8,179.9 590.0,179.2 C592.3,178.5 595.7,176.8 596.8,176.3"/>
<path d="M381.5,114.6 C382.6,113.0 385.9,107.8 388.2,104.8 C390.4,101.7 392.6,98.3 394.9,96.1 C397.1,93.9 399.3,92.3 401.5,91.4 C403.8,90.6 406.0,90.5 408.2,91.2 C410.4,91.9 412.7,94.1 415.0,95.6 C417.3,97.2 419.5,99.1 421.8,100.6 C424.1,102.0 426.3,103.2 428.6,104.2 C430.9,105.1 433.2,105.5 435.4,106.2 C437.6,106.9 439.8,107.4 442.0,108.4 C444.2,109.4 446.4,110.5 448.6,112.2 C450.8,113.9 453.0,116.2 455.2,118.5 C457.4,120.8 459.6,123.3 461.8,126.0 C464.0,128.7 466.3,132.5 468.6,134.8 C470.8,137.1 473.1,139.0 475.4,139.9 C477.6,140.9 479.9,140.9 482.1,140.4 C484.4,139.9 486.6,138.7 488.9,136.9 C491.2,135.2 493.4,132.0 495.7,130.0 C498.0,128.1 500.2,126.1 502.5,125.2 C504.8,124.3 507.0,124.1 509.3,124.5 C511.6,124.8 513.9,126.1 516.1,127.5 C518.4,128.8 520.6,130.9 522.8,132.5 C525.0,134.0 527.3,135.7 529.5,136.8 C531.7,138.0 534.0,138.7 536.2,139.4 C538.4,140.0 540.7,140.4 542.9,140.7 C545.1,141.0 547.4,140.5 549.6,141.1 C551.8,141.7 554.1,142.8 556.3,144.4 C558.5,146.0 560.8,148.4 563.0,150.8 C565.2,153.1 567.5,156.4 569.7,158.5 C571.9,160.7 574.2,162.7 576.5,163.7 C578.7,164.8 581.0,165.3 583.2,164.8 C585.5,164.3 587.8,162.8 590.0,160.9 C592.3,158.9 595.7,154.3 596.8,153.0"/>
<path d="M381.5,113.5 C382.6,113.6 385.9,114.1 388.2,114.1 C390.4,114.0 392.6,113.7 394.9,113.2 C397.1,112.8 399.3,112.1 401.5,111.5 C403.8,110.9 406.0,110.0 408.2,109.9 C410.4,109.7 412.7,110.3 415.0,110.8 C417.3,111.2 419.5,112.0 421.8,112.7 C424.1,113.4 426.3,114.3 428.6,115.0 C430.9,115.6 433.2,116.3 435.4,116.7 C437.6,117.1 439.8,117.4 442.0,117.4 C444.2,117.4 446.4,117.1 448.6,116.8 C450.8,116.5 453.0,115.8 455.2,115.4 C457.4,115.0 459.6,114.1 461.8,114.5 C464.0,114.8 466.3,116.2 468.6,117.4 C470.8,118.7 473.1,120.4 475.4,122.2 C477.6,123.9 479.9,126.1 482.1,128.2 C484.4,130.2 486.6,132.9 488.9,134.5 C491.2,136.2 493.4,137.1 495.7,138.2 C498.0,139.2 500.2,140.0 502.5,140.8 C504.8,141.5 507.0,141.9 509.3,142.5 C511.6,143.0 513.9,143.3 516.1,143.8 C518.4,144.4 520.6,145.0 522.8,145.7 C525.0,146.4 527.3,147.2 529.5,148.0 C531.7,148.8 534.0,149.7 536.2,150.4 C538.4,151.2 540.7,152.2 542.9,152.3 C545.1,152.5 547.4,152.0 549.6,151.5 C551.8,151.1 554.1,150.4 556.3,149.7 C558.5,149.0 560.8,148.1 563.0,147.4 C565.2,146.8 567.5,146.2 569.7,145.8 C571.9,145.3 574.2,144.8 576.5,144.7 C578.7,144.7 581.0,145.0 583.2,145.4 C585.5,145.8 587.8,146.6 590.0,147.3 C592.3,147.9 595.7,149.0 596.8,149.4"/>
<path d="M381.5,84.6 C382.6,83.7 385.9,80.9 388.2,79.2 C390.4,77.4 392.6,75.6 394.9,74.4 C397.1,73.2 399.3,72.3 401.5,72.1 C403.8,71.8 406.0,71.8 408.2,72.7 C410.4,73.6 412.7,75.7 415.0,77.5 C417.3,79.2 419.5,81.5 421.8,83.2 C424.1,84.9 426.3,86.7 428.6,87.8 C430.9,88.8 433.2,89.4 435.4,89.6 C437.6,89.7 439.8,89.2 442.0,88.6 C444.2,88.0 446.4,86.8 448.6,85.9 C450.8,85.1 453.0,84.1 455.2,83.6 C457.4,83.2 459.6,82.6 461.8,83.2 C464.0,83.9 466.3,85.9 468.6,87.8 C470.8,89.7 473.1,92.2 475.4,94.7 C477.6,97.1 479.9,100.1 482.1,102.7 C484.4,105.2 486.6,108.3 488.9,110.0 C491.2,111.7 493.4,112.4 495.7,112.9 C498.0,113.4 500.2,113.2 502.5,112.9 C504.8,112.7 507.0,111.8 509.3,111.2 C511.6,110.6 513.9,109.8 516.1,109.6 C518.4,109.3 520.6,109.2 522.8,109.6 C525.0,110.0 527.3,110.7 529.5,111.9 C531.7,113.0 534.0,114.7 536.2,116.4 C538.4,118.1 540.7,120.6 542.9,122.3 C545.1,123.9 547.4,125.2 549.6,126.1 C551.8,127.1 554.1,127.8 556.3,127.9 C558.5,128.1 560.8,127.6 563.0,127.0 C565.2,126.4 567.5,125.3 569.7,124.1 C571.9,123.0 574.2,121.2 576.5,120.1 C578.7,119.1 581.0,118.1 583.2,117.6 C585.5,117.2 587.8,117.1 590.0,117.4 C592.3,117.7 595.7,119.1 596.8,119.4"/>
<path d="M381.5,141.4 C382.6,141.5 385.9,141.5 388.2,141.5 C390.4,141.6 392.6,141.8 394.9,142.0 C397.1,142.1 399.3,142.4 401.5,142.5 C403.8,142.6 406.0,142.5 408.2,142.7 C410.4,143.0 412.7,143.6 415.0,143.9 C417.3,144.2 419.5,144.4 421.8,144.5 C424.1,144.5 426.3,144.5 428.6,144.4 C430.9,144.4 433.2,144.2 435.4,144.2 C437.6,144.2 439.8,144.2 442.0,144.3 C444.2,144.5 446.4,144.7 448.6,145.0 C450.8,145.3 453.0,145.7 455.2,146.2 C457.4,146.7 459.6,146.9 461.8,147.9 C464.0,148.8 466.3,150.6 468.6,151.9 C470.8,153.2 473.1,154.5 475.4,155.6 C477.6,156.8 479.9,157.9 482.1,158.9 C484.4,159.9 486.6,161.1 488.9,161.8 C491.2,162.4 493.4,162.4 495.7,162.7 C498.0,163.1 500.2,163.4 502.5,163.9 C504.8,164.3 507.0,164.8 509.3,165.5 C511.6,166.1 513.9,166.8 516.1,167.7 C518.4,168.5 520.6,169.5 522.8,170.5 C525.0,171.5 527.3,172.5 529.5,173.6 C531.7,174.6 534.0,175.6 536.2,176.6 C538.4,177.5 540.7,178.7 542.9,179.2 C545.1,179.8 547.4,179.8 549.6,180.0 C551.8,180.2 554.1,180.2 556.3,180.3 C558.5,180.3 560.8,180.3 563.0,180.2 C565.2,180.1 567.5,180.1 569.7,179.9 C571.9,179.6 574.2,178.9 576.5,178.5 C578.7,178.1 581.0,177.8 583.2,177.4 C585.5,177.1 587.8,176.9 590.0,176.7 C592.3,176.5 595.7,176.3 596.8,176.3"/>
<path d="M381.5,93.6 C382.6,94.9 385.9,98.9 388.2,101.0 C390.4,103.1 392.6,105.1 394.9,106.3 C397.1,107.5 399.3,108.3 401.5,108.2 C403.8,108.2 406.0,107.2 408.2,106.2 C410.4,105.2 412.7,103.9 415.0,102.3 C417.3,100.6 419.5,98.2 421.8,96.2 C424.1,94.1 426.3,91.7 428.6,89.9 C430.9,88.1 433.2,86.5 435.4,85.5 C437.6,84.5 439.8,84.1 442.0,84.2 C444.2,84.3 446.4,85.0 448.6,86.1 C450.8,87.2 453.0,88.9 455.2,90.7 C457.4,92.6 459.6,94.6 461.8,97.2 C464.0,99.9 466.3,103.8 468.6,106.7 C470.8,109.7 473.1,112.6 475.4,115.0 C477.6,117.3 479.9,119.3 482.1,120.8 C484.4,122.4 486.6,123.7 488.9,124.2 C491.2,124.6 493.4,123.8 495.7,123.5 C498.0,123.1 500.2,122.4 502.5,122.0 C504.8,121.6 507.0,121.2 509.3,121.1 C511.6,121.0 513.9,121.1 516.1,121.7 C518.4,122.2 520.6,123.2 522.8,124.3 C525.0,125.5 527.3,127.1 529.5,128.7 C531.7,130.3 534.0,132.3 536.2,134.1 C538.4,135.8 540.7,138.1 542.9,139.4 C545.1,140.7 547.4,141.3 549.6,141.8 C551.8,142.2 554.1,142.3 556.3,142.0 C558.5,141.7 560.8,140.9 563.0,139.8 C565.2,138.7 567.5,137.2 569.7,135.6 C571.9,133.9 574.2,131.5 576.5,129.7 C578.7,127.8 581.0,125.9 583.2,124.6 C585.5,123.2 587.8,122.1 590.0,121.6 C592.3,121.1 595.7,121.5 596.8,121.5"/>
<path d="M381.5,102.6 C382.6,103.8 385.9,108.0 388.2,109.7 C390.4,111.5 392.6,112.7 394.9,112.9 C397.1,113.0 399.3,112.2 401.5,110.6 C403.8,109.1 406.0,106.0 408.2,103.6 C410.4,101.2 412.7,98.4 415.0,96.2 C417.3,94.1 419.5,91.7 421.8,90.6 C424.1,89.6 426.3,89.1 428.6,89.8 C430.9,90.5 433.2,92.2 435.4,94.8 C437.6,97.3 439.8,101.3 442.0,105.0 C444.2,108.7 446.4,113.5 448.6,117.1 C450.8,120.8 453.0,124.5 455.2,127.0 C457.4,129.4 459.6,130.7 461.8,131.7 C464.0,132.8 466.3,133.6 468.6,133.3 C470.8,133.1 473.1,131.6 475.4,130.4 C477.6,129.1 479.9,127.0 482.1,125.9 C484.4,124.8 486.6,124.0 488.9,123.8 C491.2,123.7 493.4,123.6 495.7,125.0 C498.0,126.3 500.2,129.0 502.5,132.0 C504.8,135.0 507.0,139.2 509.3,142.8 C511.6,146.4 513.9,150.6 516.1,153.6 C518.4,156.6 520.6,159.4 522.8,160.9 C525.0,162.4 527.3,163.1 529.5,162.8 C531.7,162.5 534.0,161.0 536.2,159.2 C538.4,157.4 540.7,154.7 542.9,152.0 C545.1,149.3 547.4,145.4 549.6,143.1 C551.8,140.8 554.1,138.8 556.3,138.3 C558.5,137.7 560.8,138.2 563.0,139.6 C565.2,141.0 567.5,143.9 569.7,146.6 C571.9,149.3 574.2,152.9 576.5,155.8 C578.7,158.7 581.0,161.8 583.2,163.8 C585.5,165.7 587.8,167.1 590.0,167.5 C592.3,167.9 595.7,166.3 596.8,166.0"/>
<path d="M381.5,101.8 C382.6,101.5 385.9,101.5 388.2,100.4 C390.4,99.2 392.6,96.9 394.9,94.9 C397.1,92.8 399.3,89.9 401.5,87.9 C403.8,85.9 406.0,83.6 408.2,82.9 C410.4,82.2 412.7,82.8 415.0,83.6 C417.3,84.5 419.5,86.4 421.8,88.2 C424.1,89.9 426.3,92.5 428.6,94.3 C430.9,96.1 433.2,97.9 435.4,98.8 C437.6,99.7 439.8,100.0 442.0,99.8 C444.2,99.5 446.4,98.3 448.6,97.3 C450.8,96.4 453.0,94.8 455.2,94.1 C457.4,93.5 459.6,92.4 461.8,93.2 C464.0,93.9 466.3,96.2 468.6,98.6 C470.8,100.9 473.1,104.2 475.4,107.3 C477.6,110.4 479.9,114.1 482.1,117.0 C484.4,119.9 486.6,123.1 488.9,124.6 C491.2,126.1 493.4,126.2 495.7,126.2 C498.0,126.2 500.2,125.2 502.5,124.6 C504.8,124.0 507.0,122.9 509.3,122.6 C511.6,122.4 513.9,122.3 516.1,123.0 C518.4,123.8 520.6,125.4 522.8,127.2 C525.0,129.0 527.3,131.7 529.5,134.0 C531.7,136.2 534.0,138.8 536.2,140.5 C538.4,142.1 540.7,143.7 542.9,143.8 C545.1,144.0 547.4,142.6 549.6,141.3 C551.8,140.1 554.1,137.8 556.3,136.2 C558.5,134.6 560.8,132.6 563.0,131.6 C565.2,130.6 567.5,130.1 569.7,130.2 C571.9,130.2 574.2,130.9 576.5,131.9 C578.7,132.9 581.0,134.9 583.2,136.2 C585.5,137.6 587.8,139.4 590.0,140.1 C592.3,140.9 595.7,140.7 596.8,140.8"/>
<path d="M381.5,94.4 C382.6,95.0 385.9,97.1 388.2,98.0 C390.4,98.9 392.6,99.5 394.9,99.5 C397.1,99.5 399.3,98.9 401.5,97.9 C403.8,96.9 406.0,94.9 408.2,93.6 C410.4,92.4 412.7,91.2 415.0,90.2 C417.3,89.3 419.5,88.4 421.8,88.2 C424.1,88.0 426.3,88.2 428.6,89.0 C430.9,89.8 433.2,91.3 435.4,93.1 C437.6,94.9 439.8,97.6 442.0,99.8 C444.2,102.1 446.4,104.9 448.6,106.9 C450.8,108.9 453.0,110.7 455.2,111.8 C457.4,112.9 459.6,112.9 461.8,113.3 C464.0,113.6 466.3,114.0 468.6,113.9 C470.8,113.9 473.1,113.1 475.4,112.9 C477.6,112.6 479.9,112.1 482.1,112.5 C484.4,112.8 486.6,113.8 488.9,114.8 C491.2,115.7 493.4,116.7 495.7,118.4 C498.0,120.1 500.2,122.5 502.5,124.8 C504.8,127.0 507.0,129.8 509.3,131.8 C511.6,133.8 513.9,135.8 516.1,137.0 C518.4,138.2 520.6,138.9 522.8,139.0 C525.0,139.0 527.3,138.2 529.5,137.4 C531.7,136.5 534.0,134.8 536.2,133.7 C538.4,132.6 540.7,131.5 542.9,130.7 C545.1,129.8 547.4,128.7 549.6,128.7 C551.8,128.6 554.1,129.3 556.3,130.4 C558.5,131.4 560.8,133.3 563.0,135.2 C565.2,137.0 567.5,139.6 569.7,141.3 C571.9,142.9 574.2,144.4 576.5,145.2 C578.7,146.0 581.0,146.3 583.2,146.0 C585.5,145.7 587.8,144.6 590.0,143.4 C592.3,142.1 595.7,139.4 596.8,138.6"/>
<path d="M381.5,108.9 C382.6,108.6 385.9,108.0 388.2,107.2 C390.4,106.3 392.6,105.2 394.9,104.0 C397.1,102.8 399.3,101.3 401.5,100.0 C403.8,98.6 406.0,96.9 408.2,95.9 C410.4,94.9 412.7,94.5 415.0,94.1 C417.3,93.7 419.5,93.4 421.8,93.4 C424.1,93.3 426.3,93.4 428.6,93.7 C430.9,94.0 433.2,94.5 435.4,95.0 C437.6,95.6 439.8,96.4 442.0,97.1 C444.2,97.8 446.4,98.5 448.6,99.2 C450.8,99.8 453.0,100.4 455.2,100.8 C457.4,101.2 459.6,101.1 461.8,101.7 C464.0,102.2 466.3,103.5 468.6,104.3 C470.8,105.2 473.1,105.8 475.4,106.6 C477.6,107.4 479.9,108.1 482.1,109.0 C484.4,110.0 486.6,111.4 488.9,112.3 C491.2,113.3 493.4,113.8 495.7,114.8 C498.0,115.9 500.2,117.3 502.5,118.8 C504.8,120.3 507.0,122.1 509.3,123.9 C511.6,125.7 513.9,127.7 516.1,129.6 C518.4,131.4 520.6,133.4 522.8,135.0 C525.0,136.7 527.3,138.2 529.5,139.3 C531.7,140.5 534.0,141.4 536.2,142.0 C538.4,142.7 540.7,143.2 542.9,143.1 C545.1,143.0 547.4,142.0 549.6,141.3 C551.8,140.5 554.1,139.6 556.3,138.8 C558.5,137.9 560.8,137.0 563.0,136.2 C565.2,135.4 567.5,134.8 569.7,134.1 C571.9,133.4 574.2,132.5 576.5,131.9 C578.7,131.2 581.0,130.8 583.2,130.4 C585.5,130.0 587.8,129.8 590.0,129.6 C592.3,129.5 595.7,129.4 596.8,129.4"/>
<path d="M381.5,111.2 C382.6,112.6 385.9,117.3 388.2,119.6 C390.4,121.9 392.6,123.7 394.9,124.9 C397.1,126.2 399.3,126.8 401.5,127.0 C403.8,127.1 406.0,126.4 408.2,125.9 C410.4,125.4 412.7,124.9 415.0,124.0 C417.3,123.0 419.5,121.6 421.8,120.2 C424.1,118.8 426.3,117.2 428.6,115.7 C430.9,114.2 433.2,112.5 435.4,111.2 C437.6,109.9 439.8,108.8 442.0,107.7 C444.2,106.7 446.4,105.9 448.6,105.2 C450.8,104.4 453.0,103.8 455.2,103.2 C457.4,102.6 459.6,101.7 461.8,101.5 C464.0,101.4 466.3,102.1 468.6,102.4 C470.8,102.8 473.1,103.0 475.4,103.5 C477.6,103.9 479.9,104.3 482.1,105.2 C484.4,106.0 486.6,107.2 488.9,108.3 C491.2,109.4 493.4,110.0 495.7,111.6 C498.0,113.2 500.2,115.2 502.5,117.8 C504.8,120.3 507.0,123.5 509.3,126.9 C511.6,130.3 513.9,134.4 516.1,138.3 C518.4,142.3 520.6,146.7 522.8,150.6 C525.0,154.5 527.3,158.3 529.5,161.5 C531.7,164.7 534.0,167.5 536.2,169.7 C538.4,172.0 540.7,173.9 542.9,174.8 C545.1,175.7 547.4,175.6 549.6,175.2 C551.8,174.8 554.1,173.9 556.3,172.6 C558.5,171.3 560.8,169.5 563.0,167.4 C565.2,165.3 567.5,162.8 569.7,160.1 C571.9,157.4 574.2,154.0 576.5,151.1 C578.7,148.2 581.0,145.3 583.2,142.8 C585.5,140.3 587.8,138.1 590.0,136.3 C592.3,134.5 595.7,132.9 596.8,132.2"/>
<path d="M381.5,85.4 C382.6,85.6 385.9,85.6 388.2,86.4 C390.4,87.3 392.6,89.1 394.9,90.5 C397.1,92.0 399.3,94.0 401.5,95.2 C403.8,96.3 406.0,97.0 408.2,97.4 C410.4,97.7 412.7,97.9 415.0,97.2 C417.3,96.6 419.5,95.0 421.8,93.7 C424.1,92.4 426.3,90.4 428.6,89.4 C430.9,88.3 433.2,87.3 435.4,87.3 C437.6,87.4 439.8,88.1 442.0,89.5 C444.2,91.0 446.4,93.4 448.6,95.9 C450.8,98.4 453.0,101.8 455.2,104.5 C457.4,107.3 459.6,109.9 461.8,112.2 C464.0,114.5 466.3,117.2 468.6,118.5 C470.8,119.8 473.1,120.1 475.4,120.1 C477.6,120.1 479.9,119.1 482.1,118.6 C484.4,118.1 486.6,117.4 488.9,117.1 C491.2,116.8 493.4,116.1 495.7,116.7 C498.0,117.3 500.2,118.7 502.5,120.7 C504.8,122.6 507.0,125.6 509.3,128.2 C511.6,130.8 513.9,134.1 516.1,136.5 C518.4,138.8 520.6,141.2 522.8,142.3 C525.0,143.5 527.3,143.8 529.5,143.4 C531.7,143.0 534.0,141.5 536.2,140.0 C538.4,138.6 540.7,136.5 542.9,134.8 C545.1,133.1 547.4,130.6 549.6,129.6 C551.8,128.6 554.1,128.3 556.3,128.8 C558.5,129.3 560.8,130.8 563.0,132.6 C565.2,134.4 567.5,137.5 569.7,139.7 C571.9,141.9 574.2,144.4 576.5,145.9 C578.7,147.4 581.0,148.6 583.2,148.9 C585.5,149.1 587.8,148.4 590.0,147.2 C592.3,146.1 595.7,143.0 596.8,142.1"/>
<path d="M381.5,128.9 C382.6,128.3 385.9,126.5 388.2,125.4 C390.4,124.2 392.6,122.9 394.9,121.7 C397.1,120.5 399.3,119.3 401.5,118.2 C403.8,117.1 406.0,115.7 408.2,115.0 C410.4,114.3 412.7,114.2 415.0,113.9 C417.3,113.6 419.5,113.3 421.8,113.1 C424.1,112.9 426.3,112.8 428.6,112.8 C430.9,112.7 433.2,112.7 435.4,112.9 C437.6,113.1 439.8,113.4 442.0,113.9 C444.2,114.4 446.4,115.0 448.6,115.8 C450.8,116.6 453.0,117.5 455.2,118.6 C457.4,119.7 459.6,120.5 461.8,122.3 C464.0,124.0 466.3,126.8 468.6,129.3 C470.8,131.7 473.1,134.2 475.4,136.7 C477.6,139.2 479.9,141.8 482.1,144.3 C484.4,146.8 486.6,149.7 488.9,151.7 C491.2,153.8 493.4,155.2 495.7,156.7 C498.0,158.2 500.2,159.7 502.5,160.9 C504.8,162.2 507.0,163.3 509.3,164.2 C511.6,165.1 513.9,165.7 516.1,166.2 C518.4,166.7 520.6,167.0 522.8,167.1 C525.0,167.2 527.3,167.1 529.5,166.8 C531.7,166.6 534.0,166.2 536.2,165.8 C538.4,165.3 540.7,165.1 542.9,164.4 C545.1,163.7 547.4,162.3 549.6,161.5 C551.8,160.6 554.1,159.8 556.3,159.2 C558.5,158.5 560.8,158.0 563.0,157.5 C565.2,157.0 567.5,156.8 569.7,156.4 C571.9,155.9 574.2,155.2 576.5,154.6 C578.7,154.1 581.0,153.5 583.2,153.0 C585.5,152.5 587.8,151.9 590.0,151.5 C592.3,151.0 595.7,150.4 596.8,150.2"/>
<path d="M381.5,72.2 C382.6,72.2 385.9,72.1 388.2,71.8 C390.4,71.5 392.6,71.0 394.9,70.4 C397.1,69.9 399.3,69.1 401.5,68.4 C403.8,67.8 406.0,66.7 408.2,66.4 C410.4,66.0 412.7,66.3 415.0,66.5 C417.3,66.6 419.5,67.0 421.8,67.5 C424.1,68.0 426.3,68.7 428.6,69.4 C430.9,70.2 433.2,71.1 435.4,72.1 C437.6,73.0 439.8,74.2 442.0,75.1 C444.2,76.0 446.4,76.9 448.6,77.7 C450.8,78.4 453.0,79.0 455.2,79.5 C457.4,79.9 459.6,79.8 461.8,80.5 C464.0,81.2 466.3,82.6 468.6,83.7 C470.8,84.8 473.1,85.8 475.4,87.1 C477.6,88.3 479.9,89.7 482.1,91.2 C484.4,92.8 486.6,94.8 488.9,96.3 C491.2,97.8 493.4,98.8 495.7,100.1 C498.0,101.3 500.2,102.7 502.5,103.8 C504.8,104.9 507.0,106.0 509.3,106.8 C511.6,107.6 513.9,108.2 516.1,108.7 C518.4,109.2 520.6,109.4 522.8,109.7 C525.0,109.9 527.3,110.0 529.5,110.3 C531.7,110.5 534.0,110.7 536.2,111.1 C538.4,111.5 540.7,112.3 542.9,112.7 C545.1,113.0 547.4,113.1 549.6,113.4 C551.8,113.7 554.1,114.2 556.3,114.6 C558.5,115.0 560.8,115.5 563.0,115.8 C565.2,116.1 567.5,116.4 569.7,116.3 C571.9,116.3 574.2,115.8 576.5,115.4 C578.7,115.0 581.0,114.4 583.2,114.0 C585.5,113.5 587.8,113.0 590.0,112.7 C592.3,112.4 595.7,112.2 596.8,112.1"/>
<path d="M381.5,79.3 C382.6,79.1 385.9,78.8 388.2,78.2 C390.4,77.7 392.6,76.9 394.9,76.1 C397.1,75.3 399.3,74.4 401.5,73.6 C403.8,72.8 406.0,71.6 408.2,71.2 C410.4,70.8 412.7,71.0 415.0,71.1 C417.3,71.2 419.5,71.4 421.8,71.7 C424.1,72.1 426.3,72.6 428.6,73.2 C430.9,73.8 433.2,74.6 435.4,75.4 C437.6,76.2 439.8,77.2 442.0,78.2 C444.2,79.1 446.4,80.1 448.6,81.1 C450.8,82.0 453.0,82.9 455.2,83.7 C457.4,84.5 459.6,84.7 461.8,85.7 C464.0,86.7 466.3,88.4 468.6,89.7 C470.8,91.0 473.1,92.1 475.4,93.3 C477.6,94.5 479.9,95.6 482.1,96.8 C484.4,98.1 486.6,99.7 488.9,100.9 C491.2,102.0 493.4,102.6 495.7,103.7 C498.0,104.7 500.2,106.0 502.5,107.3 C504.8,108.5 507.0,110.0 509.3,111.4 C511.6,112.8 513.9,114.2 516.1,115.6 C518.4,116.9 520.6,118.3 522.8,119.3 C525.0,120.4 527.3,121.3 529.5,122.0 C531.7,122.7 534.0,123.1 536.2,123.4 C538.4,123.6 540.7,124.0 542.9,123.7 C545.1,123.5 547.4,122.5 549.6,121.9 C551.8,121.3 554.1,120.6 556.3,120.2 C558.5,119.7 560.8,119.3 563.0,119.1 C565.2,118.9 567.5,118.9 569.7,118.8 C571.9,118.8 574.2,118.6 576.5,118.7 C578.7,118.8 581.0,119.0 583.2,119.4 C585.5,119.7 587.8,120.2 590.0,120.7 C592.3,121.3 595.7,122.3 596.8,122.6"/>
<path d="M381.5,112.4 C382.6,113.3 385.9,116.0 388.2,117.9 C390.4,119.7 392.6,121.9 394.9,123.6 C397.1,125.3 399.3,127.0 401.5,128.0 C403.8,129.1 406.0,129.6 408.2,130.0 C410.4,130.5 412.7,130.9 415.0,130.7 C417.3,130.4 419.5,129.5 421.8,128.3 C424.1,127.2 426.3,125.4 428.6,123.7 C430.9,122.0 433.2,119.9 435.4,118.2 C437.6,116.6 439.8,114.9 442.0,113.8 C444.2,112.7 446.4,112.0 448.6,111.8 C450.8,111.6 453.0,112.0 455.2,112.8 C457.4,113.6 459.6,114.5 461.8,116.4 C464.0,118.2 466.3,121.4 468.6,123.9 C470.8,126.4 473.1,129.1 475.4,131.3 C477.6,133.5 479.9,135.5 482.1,137.1 C484.4,138.6 486.6,140.1 488.9,140.5 C491.2,140.9 493.4,140.1 495.7,139.5 C498.0,138.9 500.2,137.8 502.5,136.9 C504.8,135.9 507.0,134.6 509.3,133.8 C511.6,133.0 513.9,132.1 516.1,131.9 C518.4,131.7 520.6,131.9 522.8,132.7 C525.0,133.4 527.3,134.7 529.5,136.4 C531.7,138.2 534.0,140.6 536.2,143.2 C538.4,145.8 540.7,149.3 542.9,151.9 C545.1,154.6 547.4,157.1 549.6,159.4 C551.8,161.6 554.1,163.8 556.3,165.5 C558.5,167.1 560.8,168.4 563.0,169.0 C565.2,169.7 567.5,170.0 569.7,169.6 C571.9,169.1 574.2,167.7 576.5,166.2 C578.7,164.7 581.0,162.7 583.2,160.7 C585.5,158.7 587.8,156.3 590.0,154.4 C592.3,152.4 595.7,149.9 596.8,149.0"/>
<path d="M381.5,84.4 C382.6,84.1 385.9,83.2 388.2,82.7 C390.4,82.1 392.6,81.5 394.9,81.1 C397.1,80.7 399.3,80.4 401.5,80.2 C403.8,80.1 406.0,79.9 408.2,80.3 C410.4,80.8 412.7,82.0 415.0,82.9 C417.3,83.9 419.5,85.0 421.8,85.9 C424.1,86.9 426.3,87.9 428.6,88.7 C430.9,89.5 433.2,90.3 435.4,90.9 C437.6,91.6 439.8,92.2 442.0,92.7 C444.2,93.2 446.4,93.6 448.6,94.1 C450.8,94.5 453.0,94.9 455.2,95.3 C457.4,95.8 459.6,95.8 461.8,96.9 C464.0,97.9 466.3,99.8 468.6,101.4 C470.8,103.0 473.1,104.7 475.4,106.4 C477.6,108.1 479.9,109.9 482.1,111.7 C484.4,113.4 486.6,115.5 488.9,116.7 C491.2,118.0 493.4,118.5 495.7,119.3 C498.0,120.1 500.2,120.7 502.5,121.3 C504.8,121.9 507.0,122.4 509.3,122.9 C511.6,123.4 513.9,123.8 516.1,124.3 C518.4,124.9 520.6,125.5 522.8,126.1 C525.0,126.8 527.3,127.5 529.5,128.4 C531.7,129.2 534.0,130.2 536.2,131.2 C538.4,132.3 540.7,133.7 542.9,134.6 C545.1,135.5 547.4,135.9 549.6,136.6 C551.8,137.2 554.1,137.9 556.3,138.4 C558.5,138.9 560.8,139.4 563.0,139.8 C565.2,140.1 567.5,140.4 569.7,140.4 C571.9,140.4 574.2,140.0 576.5,139.7 C578.7,139.4 581.0,139.1 583.2,138.9 C585.5,138.6 587.8,138.4 590.0,138.4 C592.3,138.3 595.7,138.6 596.8,138.6"/>
<path d="M381.5,144.8 C382.6,144.6 385.9,143.8 388.2,143.4 C390.4,143.0 392.6,142.6 394.9,142.3 C397.1,142.0 399.3,141.9 401.5,141.8 C403.8,141.7 406.0,141.5 408.2,141.9 C410.4,142.2 412.7,143.2 415.0,143.8 C417.3,144.5 419.5,145.2 421.8,145.8 C424.1,146.4 426.3,147.0 428.6,147.5 C430.9,147.9 433.2,148.3 435.4,148.6 C437.6,148.9 439.8,149.3 442.0,149.5 C444.2,149.7 446.4,149.8 448.6,149.8 C450.8,149.9 453.0,149.9 455.2,150.0 C457.4,150.0 459.6,149.7 461.8,150.2 C464.0,150.7 466.3,152.0 468.6,153.1 C470.8,154.2 473.1,155.3 475.4,156.6 C477.6,157.9 479.9,159.3 482.1,160.8 C484.4,162.3 486.6,164.1 488.9,165.4 C491.2,166.8 493.4,167.7 495.7,168.7 C498.0,169.8 500.2,170.9 502.5,171.9 C504.8,172.8 507.0,173.8 509.3,174.5 C511.6,175.2 513.9,175.8 516.1,176.2 C518.4,176.6 520.6,176.8 522.8,176.9 C525.0,177.0 527.3,176.9 529.5,176.8 C531.7,176.7 534.0,176.4 536.2,176.2 C538.4,176.1 540.7,176.1 542.9,176.0 C545.1,175.8 547.4,175.2 549.6,175.1 C551.8,175.0 554.1,175.2 556.3,175.6 C558.5,176.0 560.8,176.7 563.0,177.5 C565.2,178.3 567.5,179.5 569.7,180.2 C571.9,181.0 574.2,181.5 576.5,182.0 C578.7,182.5 581.0,183.0 583.2,183.2 C585.5,183.4 587.8,183.5 590.0,183.4 C592.3,183.3 595.7,182.7 596.8,182.5"/>
<path d="M381.5,97.1 C382.6,96.9 385.9,96.0 388.2,95.7 C390.4,95.3 392.6,95.2 394.9,95.2 C397.1,95.2 399.3,95.6 401.5,95.9 C403.8,96.2 406.0,96.4 408.2,97.1 C410.4,97.7 412.7,99.0 415.0,99.7 C417.3,100.4 419.5,101.0 421.8,101.4 C424.1,101.9 426.3,102.1 428.6,102.3 C430.9,102.5 433.2,102.5 435.4,102.8 C437.6,103.1 439.8,103.4 442.0,104.0 C444.2,104.5 446.4,105.3 448.6,106.2 C450.8,107.0 453.0,108.2 455.2,109.2 C457.4,110.3 459.6,111.1 461.8,112.6 C464.0,114.0 466.3,116.3 468.6,117.8 C470.8,119.4 473.1,120.7 475.4,121.9 C477.6,123.0 479.9,123.9 482.1,124.8 C484.4,125.7 486.6,126.7 488.9,127.3 C491.2,127.9 493.4,127.8 495.7,128.4 C498.0,128.9 500.2,129.7 502.5,130.7 C504.8,131.6 507.0,132.9 509.3,134.2 C511.6,135.5 513.9,136.9 516.1,138.2 C518.4,139.5 520.6,140.9 522.8,141.9 C525.0,142.9 527.3,143.7 529.5,144.3 C531.7,144.9 534.0,145.1 536.2,145.3 C538.4,145.6 540.7,145.8 542.9,145.7 C545.1,145.6 547.4,144.9 549.6,144.9 C551.8,144.8 554.1,145.0 556.3,145.4 C558.5,145.9 560.8,146.7 563.0,147.5 C565.2,148.4 567.5,149.7 569.7,150.6 C571.9,151.4 574.2,152.1 576.5,152.6 C578.7,153.1 581.0,153.4 583.2,153.5 C585.5,153.5 587.8,153.3 590.0,153.0 C592.3,152.6 595.7,151.7 596.8,151.5"/>
<path d="M381.5,77.8 C382.6,77.2 385.9,75.4 388.2,73.8 C390.4,72.2 392.6,69.9 394.9,68.2 C397.1,66.5 399.3,64.6 401.5,63.6 C403.8,62.5 406.0,61.5 408.2,61.7 C410.4,62.0 412.7,63.3 415.0,64.9 C417.3,66.5 419.5,68.8 421.8,71.3 C424.1,73.8 426.3,77.2 428.6,80.0 C430.9,82.9 433.2,86.3 435.4,88.6 C437.6,91.0 439.8,93.1 442.0,94.2 C444.2,95.3 446.4,95.4 448.6,95.1 C450.8,94.7 453.0,93.3 455.2,92.1 C457.4,90.9 459.6,88.6 461.8,87.9 C464.0,87.2 466.3,87.3 468.6,87.7 C470.8,88.2 473.1,89.0 475.4,90.5 C477.6,92.0 479.9,94.1 482.1,96.6 C484.4,99.0 486.6,102.6 488.9,105.3 C491.2,107.9 493.4,110.4 495.7,112.6 C498.0,114.8 500.2,116.9 502.5,118.3 C504.8,119.7 507.0,120.5 509.3,120.9 C511.6,121.2 513.9,120.8 516.1,120.6 C518.4,120.4 520.6,119.7 522.8,119.5 C525.0,119.3 527.3,119.1 529.5,119.6 C531.7,120.1 534.0,121.0 536.2,122.4 C538.4,123.9 540.7,126.3 542.9,128.4 C545.1,130.4 547.4,132.7 549.6,134.7 C551.8,136.8 554.1,139.2 556.3,140.7 C558.5,142.3 560.8,143.5 563.0,143.9 C565.2,144.2 567.5,143.9 569.7,142.9 C571.9,141.8 574.2,139.5 576.5,137.5 C578.7,135.6 581.0,132.9 583.2,131.1 C585.5,129.3 587.8,127.5 590.0,126.7 C592.3,125.9 595.7,126.3 596.8,126.2"/>
<path d="M381.5,87.6 C382.6,87.4 385.9,87.1 388.2,86.7 C390.4,86.2 392.6,85.5 394.9,85.0 C397.1,84.4 399.3,83.8 401.5,83.5 C403.8,83.3 406.0,82.9 408.2,83.4 C410.4,83.8 412.7,85.2 415.0,86.3 C417.3,87.4 419.5,88.9 421.8,90.0 C424.1,91.1 426.3,92.3 428.6,93.0 C430.9,93.8 433.2,94.2 435.4,94.4 C437.6,94.7 439.8,94.5 442.0,94.3 C444.2,94.2 446.4,93.7 448.6,93.4 C450.8,93.2 453.0,92.9 455.2,93.1 C457.4,93.2 459.6,93.1 461.8,94.1 C464.0,95.2 466.3,97.5 468.6,99.4 C470.8,101.3 473.1,103.5 475.4,105.4 C477.6,107.4 479.9,109.5 482.1,111.2 C484.4,112.9 486.6,114.9 488.9,115.9 C491.2,116.9 493.4,117.0 495.7,117.4 C498.0,117.9 500.2,118.2 502.5,118.7 C504.8,119.2 507.0,119.8 509.3,120.6 C511.6,121.4 513.9,122.4 516.1,123.5 C518.4,124.6 520.6,126.0 522.8,127.1 C525.0,128.2 527.3,129.4 529.5,130.1 C531.7,130.9 534.0,131.4 536.2,131.7 C538.4,131.9 540.7,132.0 542.9,131.6 C545.1,131.2 547.4,129.9 549.6,129.3 C551.8,128.6 554.1,128.0 556.3,127.8 C558.5,127.6 560.8,127.7 563.0,128.3 C565.2,128.8 567.5,129.9 569.7,130.9 C571.9,131.8 574.2,133.0 576.5,134.0 C578.7,135.0 581.0,136.2 583.2,136.9 C585.5,137.6 587.8,138.2 590.0,138.3 C592.3,138.4 595.7,137.8 596.8,137.7"/>
<path d="M381.5,89.3 C382.6,89.6 385.9,91.0 388.2,91.3 C390.4,91.6 392.6,91.7 394.9,91.3 C397.1,90.9 399.3,90.1 401.5,89.0 C403.8,88.0 406.0,86.2 408.2,85.0 C410.4,83.8 412.7,82.8 415.0,81.8 C417.3,80.8 419.5,79.7 421.8,79.0 C424.1,78.3 426.3,77.7 428.6,77.5 C430.9,77.3 433.2,77.4 435.4,77.9 C437.6,78.4 439.8,79.3 442.0,80.4 C444.2,81.5 446.4,83.0 448.6,84.6 C450.8,86.2 453.0,88.1 455.2,89.9 C457.4,91.6 459.6,93.1 461.8,95.1 C464.0,97.1 466.3,99.8 468.6,101.7 C470.8,103.6 473.1,105.1 475.4,106.3 C477.6,107.5 479.9,108.3 482.1,108.9 C484.4,109.5 486.6,110.0 488.9,109.9 C491.2,109.8 493.4,108.8 495.7,108.4 C498.0,108.0 500.2,107.6 502.5,107.6 C504.8,107.5 507.0,107.6 509.3,107.9 C511.6,108.3 513.9,109.0 516.1,109.8 C518.4,110.6 520.6,111.8 522.8,113.0 C525.0,114.3 527.3,115.7 529.5,117.1 C531.7,118.5 534.0,120.1 536.2,121.4 C538.4,122.8 540.7,124.5 542.9,125.3 C545.1,126.1 547.4,126.2 549.6,126.3 C551.8,126.5 554.1,126.3 556.3,126.0 C558.5,125.7 560.8,125.2 563.0,124.6 C565.2,124.0 567.5,123.3 569.7,122.4 C571.9,121.6 574.2,120.4 576.5,119.6 C578.7,118.8 581.0,118.0 583.2,117.5 C585.5,117.0 587.8,116.8 590.0,116.7 C592.3,116.7 595.7,117.3 596.8,117.4"/>
<path d="M381.5,75.4 C382.6,75.6 385.9,76.1 388.2,76.5 C390.4,76.9 392.6,77.3 394.9,77.7 C397.1,78.0 399.3,78.4 401.5,78.5 C403.8,78.6 406.0,78.4 408.2,78.5 C410.4,78.6 412.7,79.1 415.0,79.0 C417.3,79.0 419.5,78.6 421.8,78.1 C424.1,77.6 426.3,76.8 428.6,76.0 C430.9,75.3 433.2,74.3 435.4,73.5 C437.6,72.7 439.8,72.0 442.0,71.4 C444.2,70.8 446.4,70.4 448.6,70.2 C450.8,69.9 453.0,69.9 455.2,70.1 C457.4,70.3 459.6,70.3 461.8,71.2 C464.0,72.2 466.3,74.1 468.6,75.8 C470.8,77.5 473.1,79.5 475.4,81.6 C477.6,83.7 479.9,86.1 482.1,88.6 C484.4,91.0 486.6,94.1 488.9,96.3 C491.2,98.6 493.4,100.4 495.7,102.3 C498.0,104.1 500.2,105.9 502.5,107.4 C504.8,108.8 507.0,110.1 509.3,111.0 C511.6,111.9 513.9,112.5 516.1,112.8 C518.4,113.2 520.6,113.2 522.8,113.2 C525.0,113.1 527.3,112.7 529.5,112.4 C531.7,112.1 534.0,111.6 536.2,111.3 C538.4,111.1 540.7,111.0 542.9,110.7 C545.1,110.4 547.4,109.7 549.6,109.4 C551.8,109.1 554.1,109.0 556.3,108.9 C558.5,108.9 560.8,109.0 563.0,109.2 C565.2,109.3 567.5,109.7 569.7,109.8 C571.9,109.8 574.2,109.7 576.5,109.6 C578.7,109.5 581.0,109.3 583.2,109.1 C585.5,108.9 587.8,108.6 590.0,108.4 C592.3,108.2 595.7,107.8 596.8,107.7"/>
<path d="M381.5,72.4 C382.6,72.3 385.9,71.9 388.2,71.9 C390.4,71.8 392.6,71.8 394.9,71.9 C397.1,72.0 399.3,72.3 401.5,72.4 C403.8,72.5 406.0,72.4 408.2,72.7 C410.4,73.0 412.7,73.8 415.0,74.2 C417.3,74.5 419.5,74.7 421.8,74.8 C424.1,74.9 426.3,74.7 428.6,74.7 C430.9,74.6 433.2,74.3 435.4,74.3 C437.6,74.2 439.8,74.2 442.0,74.3 C444.2,74.4 446.4,74.5 448.6,74.9 C450.8,75.2 453.0,75.7 455.2,76.3 C457.4,76.8 459.6,77.2 461.8,78.3 C464.0,79.4 466.3,81.5 468.6,83.0 C470.8,84.6 473.1,86.2 475.4,87.7 C477.6,89.2 479.9,90.6 482.1,91.9 C484.4,93.2 486.6,94.7 488.9,95.5 C491.2,96.3 493.4,96.3 495.7,96.7 C498.0,97.0 500.2,97.3 502.5,97.6 C504.8,98.0 507.0,98.3 509.3,98.7 C511.6,99.1 513.9,99.5 516.1,100.0 C518.4,100.4 520.6,100.9 522.8,101.4 C525.0,101.9 527.3,102.4 529.5,102.9 C531.7,103.5 534.0,104.1 536.2,104.7 C538.4,105.2 540.7,106.1 542.9,106.5 C545.1,106.8 547.4,106.7 549.6,106.9 C551.8,107.0 554.1,107.2 556.3,107.4 C558.5,107.6 560.8,107.8 563.0,108.0 C565.2,108.2 567.5,108.5 569.7,108.6 C571.9,108.7 574.2,108.6 576.5,108.6 C578.7,108.6 581.0,108.5 583.2,108.5 C585.5,108.4 587.8,108.3 590.0,108.2 C592.3,108.1 595.7,107.8 596.8,107.8"/>
<path d="M381.5,107.1 C382.6,106.9 385.9,106.4 388.2,105.8 C390.4,105.2 392.6,104.3 394.9,103.3 C397.1,102.4 399.3,101.3 401.5,100.2 C403.8,99.2 406.0,97.7 408.2,97.0 C410.4,96.4 412.7,96.3 415.0,96.1 C417.3,96.0 419.5,95.9 421.8,96.1 C424.1,96.3 426.3,96.7 428.6,97.3 C430.9,97.9 433.2,98.7 435.4,99.7 C437.6,100.6 439.8,101.9 442.0,103.1 C444.2,104.3 446.4,105.7 448.6,107.0 C450.8,108.3 453.0,109.6 455.2,110.8 C457.4,111.9 459.6,112.5 461.8,113.8 C464.0,115.1 466.3,117.0 468.6,118.3 C470.8,119.7 473.1,120.7 475.4,121.7 C477.6,122.6 479.9,123.3 482.1,124.0 C484.4,124.7 486.6,125.5 488.9,125.7 C491.2,125.9 493.4,125.4 495.7,125.3 C498.0,125.3 500.2,125.2 502.5,125.4 C504.8,125.6 507.0,125.8 509.3,126.3 C511.6,126.7 513.9,127.3 516.1,128.0 C518.4,128.8 520.6,129.8 522.8,130.8 C525.0,131.8 527.3,132.9 529.5,134.1 C531.7,135.3 534.0,136.5 536.2,137.7 C538.4,139.0 540.7,140.5 542.9,141.4 C545.1,142.3 547.4,142.7 549.6,143.2 C551.8,143.7 554.1,144.1 556.3,144.4 C558.5,144.7 560.8,144.9 563.0,144.9 C565.2,144.9 567.5,144.9 569.7,144.5 C571.9,144.1 574.2,143.2 576.5,142.4 C578.7,141.6 581.0,140.7 583.2,139.9 C585.5,139.1 587.8,138.2 590.0,137.5 C592.3,136.8 595.7,136.1 596.8,135.8"/>
<path d="M381.5,120.9 C382.6,120.4 385.9,119.0 388.2,117.8 C390.4,116.6 392.6,115.2 394.9,113.8 C397.1,112.4 399.3,110.9 401.5,109.5 C403.8,108.1 406.0,106.5 408.2,105.6 C410.4,104.6 412.7,104.4 415.0,104.0 C417.3,103.5 419.5,103.2 421.8,103.0 C424.1,102.7 426.3,102.5 428.6,102.3 C430.9,102.1 433.2,101.9 435.4,101.8 C437.6,101.6 439.8,101.4 442.0,101.2 C444.2,101.0 446.4,100.7 448.6,100.5 C450.8,100.2 453.0,99.9 455.2,99.6 C457.4,99.4 459.6,98.7 461.8,99.0 C464.0,99.4 466.3,100.7 468.6,101.8 C470.8,102.8 473.1,104.1 475.4,105.6 C477.6,107.1 479.9,108.9 482.1,110.9 C484.4,112.9 486.6,115.6 488.9,117.8 C491.2,119.9 493.4,121.7 495.7,123.8 C498.0,125.9 500.2,128.3 502.5,130.5 C504.8,132.7 507.0,135.0 509.3,137.0 C511.6,138.9 513.9,140.8 516.1,142.3 C518.4,143.9 520.6,145.2 522.8,146.3 C525.0,147.3 527.3,148.0 529.5,148.5 C531.7,149.0 534.0,149.2 536.2,149.4 C538.4,149.6 540.7,149.8 542.9,149.6 C545.1,149.4 547.4,148.5 549.6,148.1 C551.8,147.7 554.1,147.3 556.3,147.0 C558.5,146.8 560.8,146.6 563.0,146.5 C565.2,146.3 567.5,146.4 569.7,146.1 C571.9,145.7 574.2,145.1 576.5,144.4 C578.7,143.7 581.0,142.8 583.2,141.8 C585.5,140.8 587.8,139.5 590.0,138.2 C592.3,136.8 595.7,134.5 596.8,133.8"/>
<path d="M383,92 C410,85 440,80 470,92 C490,100 520,103 540,98 C555,93 560,84 570,84 C580,84 588,96 597,104"/>
<path d="M383,70 C420,72 445,78 470,92 C490,100 515,104 535,97 C550,91 560,100 575,104 C585,106 590,103 597,100"/></g>
<line x1="57.7" y1="111.5" x2="596.3" y2="111.5" stroke="#555" stroke-width="1" stroke-dasharray="4.4 3.23"/>
<rect x="380" y="49.7" width="3" height="246" fill="#c8c8c8"/>
<line x1="61" y1="295.5" x2="597.8" y2="295.5" stroke="#c2c2c2" stroke-width="1"/>
<g stroke="#8a8a8a" stroke-width="1.3"><line x1="61.5" y1="296" x2="61.5" y2="303"/><line x1="88.5" y1="296" x2="88.5" y2="303"/><line x1="115.3" y1="296" x2="115.3" y2="303"/><line x1="141.5" y1="296" x2="141.5" y2="303"/><line x1="168.1" y1="296" x2="168.1" y2="303"/><line x1="195.5" y1="296" x2="195.5" y2="303"/><line x1="221.8" y1="296" x2="221.8" y2="303"/><line x1="250.2" y1="296" x2="250.2" y2="303"/><line x1="276.3" y1="296" x2="276.3" y2="303"/><line x1="301.8" y1="296" x2="301.8" y2="303"/><line x1="327.1" y1="296" x2="327.1" y2="303"/><line x1="353.2" y1="296" x2="353.2" y2="303"/><line x1="381.5" y1="296" x2="381.5" y2="303"/><line x1="408.9" y1="296" x2="408.9" y2="303"/><line x1="435.2" y1="296" x2="435.2" y2="303"/><line x1="462.1" y1="296" x2="462.1" y2="303"/><line x1="489.1" y1="296" x2="489.1" y2="303"/><line x1="516.3" y1="296" x2="516.3" y2="303"/><line x1="542.9" y1="296" x2="542.9" y2="303"/><line x1="570.2" y1="296" x2="570.2" y2="303"/><line x1="597.3" y1="296" x2="597.3" y2="303"/></g>
<polyline fill="none" stroke="#d62a31" stroke-width="1.6" points="61.1,162.7 87.9,151.0 114.5,124.6 141.0,154.3 167.6,161.3 194.9,147.5 221.1,140.8 249.0,127.6 275.8,102.2 302.4,107.1 328.1,96.4"/>
<g fill="#d62a31"><circle cx="61.1" cy="162.7" r="3.2"/><circle cx="87.9" cy="151.0" r="3.2"/><circle cx="114.5" cy="124.6" r="3.2"/><circle cx="141.0" cy="154.3" r="3.2"/><circle cx="167.6" cy="161.3" r="3.2"/><circle cx="194.9" cy="147.5" r="3.2"/><circle cx="221.1" cy="140.8" r="3.2"/><circle cx="249.0" cy="127.6" r="3.2"/><circle cx="275.8" cy="102.2" r="3.2"/><circle cx="302.4" cy="107.1" r="3.2"/><circle cx="328.1" cy="96.4" r="3.2"/></g>
<path fill="none" stroke="#c9505a" stroke-width="1.4" d="M381.5,101.8 C385.9,101.5 399.2,99.2 408.2,99.7 C417.2,100.2 426.5,102.8 435.4,104.5 C444.3,106.2 452.9,106.6 461.8,110.2 C470.7,113.8 479.8,122.3 488.9,126.3 C497.9,130.2 507.1,131.2 516.1,133.9 C525.1,136.6 534.0,140.8 542.9,142.5 C551.8,144.2 560.7,144.2 569.7,144.2 C578.7,144.2 592.3,142.8 596.8,142.5"/>
<g fill="#c9505a"><circle cx="381.5" cy="101.8" r="3"/><circle cx="408.2" cy="99.7" r="3"/><circle cx="435.4" cy="104.5" r="3"/><circle cx="461.8" cy="110.2" r="3"/><circle cx="488.9" cy="126.3" r="3"/><circle cx="516.1" cy="133.9" r="3"/><circle cx="542.9" cy="142.5" r="3"/><circle cx="569.7" cy="144.2" r="3"/><circle cx="596.8" cy="142.5" r="3"/></g>
<line x1="500" y1="57.6" x2="512.7" y2="57.6" stroke="#c9545a" stroke-width="2"/>
<line x1="500" y1="75" x2="512.7" y2="75" stroke="#f9c49a" stroke-width="1.3"/>
<g stroke="#aaa" stroke-width="1"><line x1="360" y1="281.5" x2="377.4" y2="281.5"/><line x1="384.5" y1="281.5" x2="400.5" y2="281.5"/></g>
<g fill="#aaa"><path d="M357.5,281.5 L361.5,279.5 L361.5,283.5Z"/><path d="M403,281.5 L399,279.5 L399,283.5Z"/></g>
<g font-family="Liberation Sans, sans-serif"><text x="2.0" y="21.1" font-size="23.70" fill="#707070" font-weight="normal" font-style="normal" text-anchor="start" textLength="446.0" lengthAdjust="spacingAndGlyphs" >Extreme heat of late 2023 forecasted to drop as El Niño weakens</text>
<text x="83.0" y="79.2" font-size="12.40" fill="#d6282e" font-weight="bold" font-style="normal" text-anchor="start" textLength="215.5" lengthAdjust="spacingAndGlyphs" >global average surface temperature</text>
<text x="46.3" y="55.8" font-size="12.30" fill="#333" font-weight="normal" font-style="normal" text-anchor="end" >2.0</text>
<text x="46.3" y="116.8" font-size="12.30" fill="#333" font-weight="bold" font-style="normal" text-anchor="end" >1.5</text>
<text x="46.3" y="177.8" font-size="12.30" fill="#333" font-weight="normal" font-style="normal" text-anchor="end" >1.0</text>
<text x="46.3" y="238.9" font-size="12.30" fill="#333" font-weight="normal" font-style="normal" text-anchor="end" >0.5</text>
<text x="46.3" y="299.9" font-size="12.30" fill="#333" font-weight="normal" font-style="normal" text-anchor="end" >0.0</text>
<text x="59.3" y="321.7" font-size="14.80" fill="#444" font-weight="normal" font-style="normal" text-anchor="middle" >Jan</text>
<text x="113.8" y="321.7" font-size="14.80" fill="#444" font-weight="normal" font-style="normal" text-anchor="middle" >Mar</text>
<text x="167.0" y="321.7" font-size="14.80" fill="#444" font-weight="normal" font-style="normal" text-anchor="middle" >May</text>
<text x="220.1" y="321.7" font-size="14.80" fill="#444" font-weight="normal" font-style="normal" text-anchor="middle" >Jul</text>
<text x="275.9" y="321.7" font-size="14.80" fill="#444" font-weight="normal" font-style="normal" text-anchor="middle" >Sep</text>
<text x="327.5" y="321.7" font-size="14.80" fill="#444" font-weight="normal" font-style="normal" text-anchor="middle" >Nov</text>
<text x="382.2" y="321.7" font-size="14.80" fill="#444" font-weight="normal" font-style="normal" text-anchor="middle" >Jan</text>
<text x="436.9" y="321.7" font-size="14.80" fill="#444" font-weight="normal" font-style="normal" text-anchor="middle" >Mar</text>
<text x="490.2" y="321.7" font-size="14.80" fill="#444" font-weight="normal" font-style="normal" text-anchor="middle" >May</text>
<text x="543.0" y="321.7" font-size="14.80" fill="#444" font-weight="normal" font-style="normal" text-anchor="middle" >Jul</text>
<text x="597.9" y="321.7" font-size="14.80" fill="#444" font-weight="normal" font-style="normal" text-anchor="middle" >Sep</text>
<text x="197.4" y="339.1" font-size="12.70" fill="#111" font-weight="bold" font-style="normal" text-anchor="middle" >2023</text>
<text x="499.9" y="344.1" font-size="12.70" fill="#333" font-weight="bold" font-style="normal" text-anchor="middle" >2024</text>
<text x="0.0" y="0.0" font-size="13.00" fill="#222" font-weight="bold" font-style="normal" text-anchor="start" textLength="235.0" lengthAdjust="spacingAndGlyphs" transform="translate(13,288.5) rotate(-90)">difference from 1850-1900 average ( ˚ C)</text>
<text x="0.0" y="0.0" font-size="13.50" fill="#333" font-weight="normal" font-style="italic" text-anchor="start" textLength="135.0" lengthAdjust="spacingAndGlyphs" transform="translate(359.8,258) rotate(-90)">December not available</text>
<text x="278.0" y="285.3" font-size="12.00" fill="#9a9a9a" font-weight="normal" font-style="normal" text-anchor="start" textLength="75.5" lengthAdjust="spacingAndGlyphs" >observations</text>
<text x="406.0" y="285.5" font-size="12.00" fill="#9a9a9a" font-weight="normal" font-style="normal" text-anchor="start" textLength="53.5" lengthAdjust="spacingAndGlyphs" >forecasts</text>
<text x="515.0" y="60.7" font-size="12.00" fill="#cd5e65" font-weight="normal" font-style="normal" text-anchor="start" textLength="74.5" lengthAdjust="spacingAndGlyphs" >model average</text>
<text x="515.0" y="78.5" font-size="12.00" fill="#ef9d66" font-weight="normal" font-style="normal" text-anchor="start" textLength="97.0" lengthAdjust="spacingAndGlyphs" >individual forecasts</text>
<text x="3.3" y="365.8" font-size="10.50" fill="#a8a8a8" font-weight="normal" font-style="normal" text-anchor="start" textLength="167.0" lengthAdjust="spacingAndGlyphs" >NMME forecasts (initialized Jan 1)</text>
<text x="493.0" y="366.0" font-size="11.50" fill="#a0a0a0" font-weight="normal" font-style="normal" text-anchor="start" textLength="91.5" lengthAdjust="spacingAndGlyphs" >NOAA Climate.gov</text>
<text x="493.0" y="380.6" font-size="11.50" fill="#a0a0a0" font-weight="normal" font-style="normal" text-anchor="start" textLength="122.5" lengthAdjust="spacingAndGlyphs" >Data: NCEI, E. Becker/IRI</text></g>
</svg>
</body></html>
